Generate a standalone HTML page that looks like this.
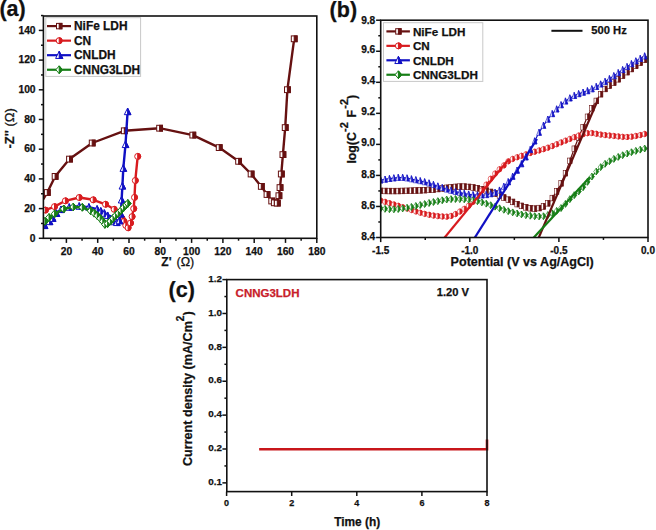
<!DOCTYPE html>
<html><head><meta charset="utf-8"><style>
html,body{margin:0;padding:0;background:#fff;overflow:hidden;width:656px;height:530px;}
svg{display:block;font-family:"Liberation Sans", sans-serif;}
text{stroke-width:0.25px;}
</style></head><body>
<svg width="656" height="530" viewBox="0 0 656 530">
<rect width="656" height="530" fill="#fff"/>
<clipPath id="ca"><rect x="43.4" y="16.0" width="273.40000000000003" height="222.3"/></clipPath>
<g clip-path="url(#ca)">
<polyline points="43.2,199.5 47.3,192.5 55.1,176.4 69.5,159.1 92.2,143 124.3,130.8 159.6,128.2 192.8,135.1 219.2,147.6 238.6,161.3 251.1,174 261.3,186.4 267,194.5 271.7,201 274.3,202.8 277.3,203.1 278.9,195.7 280,187.6 281.3,174 282.9,154.6 285.2,127.6 287.4,89.7 294.2,38.8" fill="none" stroke="#661111" stroke-width="2.4" stroke-linejoin="round"/>
<rect x="44.4" y="189.6" width="5.8" height="5.8" fill="#fff" stroke="#661111" stroke-width="1.0"/>
<rect x="47.3" y="189.6" width="2.9" height="5.8" fill="#661111" stroke="#661111" stroke-width="1.0"/>
<rect x="52.2" y="173.5" width="5.8" height="5.8" fill="#fff" stroke="#661111" stroke-width="1.0"/>
<rect x="55.1" y="173.5" width="2.9" height="5.8" fill="#661111" stroke="#661111" stroke-width="1.0"/>
<rect x="66.6" y="156.2" width="5.8" height="5.8" fill="#fff" stroke="#661111" stroke-width="1.0"/>
<rect x="69.5" y="156.2" width="2.9" height="5.8" fill="#661111" stroke="#661111" stroke-width="1.0"/>
<rect x="89.3" y="140.1" width="5.8" height="5.8" fill="#fff" stroke="#661111" stroke-width="1.0"/>
<rect x="92.2" y="140.1" width="2.9" height="5.8" fill="#661111" stroke="#661111" stroke-width="1.0"/>
<rect x="121.4" y="127.9" width="5.8" height="5.8" fill="#fff" stroke="#661111" stroke-width="1.0"/>
<rect x="124.3" y="127.9" width="2.9" height="5.8" fill="#661111" stroke="#661111" stroke-width="1.0"/>
<rect x="156.7" y="125.3" width="5.8" height="5.8" fill="#fff" stroke="#661111" stroke-width="1.0"/>
<rect x="159.6" y="125.3" width="2.9" height="5.8" fill="#661111" stroke="#661111" stroke-width="1.0"/>
<rect x="189.9" y="132.2" width="5.8" height="5.8" fill="#fff" stroke="#661111" stroke-width="1.0"/>
<rect x="192.8" y="132.2" width="2.9" height="5.8" fill="#661111" stroke="#661111" stroke-width="1.0"/>
<rect x="216.3" y="144.7" width="5.8" height="5.8" fill="#fff" stroke="#661111" stroke-width="1.0"/>
<rect x="219.2" y="144.7" width="2.9" height="5.8" fill="#661111" stroke="#661111" stroke-width="1.0"/>
<rect x="235.7" y="158.4" width="5.8" height="5.8" fill="#fff" stroke="#661111" stroke-width="1.0"/>
<rect x="238.6" y="158.4" width="2.9" height="5.8" fill="#661111" stroke="#661111" stroke-width="1.0"/>
<rect x="248.2" y="171.1" width="5.8" height="5.8" fill="#fff" stroke="#661111" stroke-width="1.0"/>
<rect x="251.1" y="171.1" width="2.9" height="5.8" fill="#661111" stroke="#661111" stroke-width="1.0"/>
<rect x="258.4" y="183.5" width="5.8" height="5.8" fill="#fff" stroke="#661111" stroke-width="1.0"/>
<rect x="261.3" y="183.5" width="2.9" height="5.8" fill="#661111" stroke="#661111" stroke-width="1.0"/>
<rect x="264.1" y="191.6" width="5.8" height="5.8" fill="#fff" stroke="#661111" stroke-width="1.0"/>
<rect x="267" y="191.6" width="2.9" height="5.8" fill="#661111" stroke="#661111" stroke-width="1.0"/>
<rect x="268.8" y="198.1" width="5.8" height="5.8" fill="#fff" stroke="#661111" stroke-width="1.0"/>
<rect x="271.7" y="198.1" width="2.9" height="5.8" fill="#661111" stroke="#661111" stroke-width="1.0"/>
<rect x="271.4" y="199.9" width="5.8" height="5.8" fill="#fff" stroke="#661111" stroke-width="1.0"/>
<rect x="274.3" y="199.9" width="2.9" height="5.8" fill="#661111" stroke="#661111" stroke-width="1.0"/>
<rect x="274.4" y="200.2" width="5.8" height="5.8" fill="#fff" stroke="#661111" stroke-width="1.0"/>
<rect x="277.3" y="200.2" width="2.9" height="5.8" fill="#661111" stroke="#661111" stroke-width="1.0"/>
<rect x="276" y="192.8" width="5.8" height="5.8" fill="#fff" stroke="#661111" stroke-width="1.0"/>
<rect x="278.9" y="192.8" width="2.9" height="5.8" fill="#661111" stroke="#661111" stroke-width="1.0"/>
<rect x="277.1" y="184.7" width="5.8" height="5.8" fill="#fff" stroke="#661111" stroke-width="1.0"/>
<rect x="280" y="184.7" width="2.9" height="5.8" fill="#661111" stroke="#661111" stroke-width="1.0"/>
<rect x="278.4" y="171.1" width="5.8" height="5.8" fill="#fff" stroke="#661111" stroke-width="1.0"/>
<rect x="281.3" y="171.1" width="2.9" height="5.8" fill="#661111" stroke="#661111" stroke-width="1.0"/>
<rect x="280" y="151.7" width="5.8" height="5.8" fill="#fff" stroke="#661111" stroke-width="1.0"/>
<rect x="282.9" y="151.7" width="2.9" height="5.8" fill="#661111" stroke="#661111" stroke-width="1.0"/>
<rect x="282.3" y="124.7" width="5.8" height="5.8" fill="#fff" stroke="#661111" stroke-width="1.0"/>
<rect x="285.2" y="124.7" width="2.9" height="5.8" fill="#661111" stroke="#661111" stroke-width="1.0"/>
<rect x="284.5" y="86.8" width="5.8" height="5.8" fill="#fff" stroke="#661111" stroke-width="1.0"/>
<rect x="287.4" y="86.8" width="2.9" height="5.8" fill="#661111" stroke="#661111" stroke-width="1.0"/>
<rect x="291.3" y="35.9" width="5.8" height="5.8" fill="#fff" stroke="#661111" stroke-width="1.0"/>
<rect x="294.2" y="35.9" width="2.9" height="5.8" fill="#661111" stroke="#661111" stroke-width="1.0"/>
<polyline points="45.4,210.1 54.5,206.6 65.4,200.8 79.2,197.5 93.2,199.8 105.5,204.3 114.2,209.3 119,214 122,218.5 124,221.4 125.8,225.4 128.1,227.8 130.5,223 132.1,216.6 133.7,208.6 134.5,197.4 135.3,180.5 137.7,156.4" fill="none" stroke="#d81b1f" stroke-width="2.4" stroke-linejoin="round"/>
<ellipse cx="45.4" cy="210.1" rx="3" ry="3" fill="#fff" stroke="#d81b1f" stroke-width="1.0"/>
<path d="M45.4,207.1 A3,3 0 0 1 45.4,213.1 Z" fill="#d81b1f" stroke="#d81b1f" stroke-width="1.0"/>
<ellipse cx="54.5" cy="206.6" rx="3" ry="3" fill="#fff" stroke="#d81b1f" stroke-width="1.0"/>
<path d="M54.5,203.6 A3,3 0 0 1 54.5,209.6 Z" fill="#d81b1f" stroke="#d81b1f" stroke-width="1.0"/>
<ellipse cx="65.4" cy="200.8" rx="3" ry="3" fill="#fff" stroke="#d81b1f" stroke-width="1.0"/>
<path d="M65.4,197.8 A3,3 0 0 1 65.4,203.8 Z" fill="#d81b1f" stroke="#d81b1f" stroke-width="1.0"/>
<ellipse cx="79.2" cy="197.5" rx="3" ry="3" fill="#fff" stroke="#d81b1f" stroke-width="1.0"/>
<path d="M79.2,194.5 A3,3 0 0 1 79.2,200.5 Z" fill="#d81b1f" stroke="#d81b1f" stroke-width="1.0"/>
<ellipse cx="93.2" cy="199.8" rx="3" ry="3" fill="#fff" stroke="#d81b1f" stroke-width="1.0"/>
<path d="M93.2,196.8 A3,3 0 0 1 93.2,202.8 Z" fill="#d81b1f" stroke="#d81b1f" stroke-width="1.0"/>
<ellipse cx="105.5" cy="204.3" rx="3" ry="3" fill="#fff" stroke="#d81b1f" stroke-width="1.0"/>
<path d="M105.5,201.3 A3,3 0 0 1 105.5,207.3 Z" fill="#d81b1f" stroke="#d81b1f" stroke-width="1.0"/>
<ellipse cx="114.2" cy="209.3" rx="3" ry="3" fill="#fff" stroke="#d81b1f" stroke-width="1.0"/>
<path d="M114.2,206.3 A3,3 0 0 1 114.2,212.3 Z" fill="#d81b1f" stroke="#d81b1f" stroke-width="1.0"/>
<ellipse cx="119" cy="214" rx="3" ry="3" fill="#fff" stroke="#d81b1f" stroke-width="1.0"/>
<path d="M119,211 A3,3 0 0 1 119,217 Z" fill="#d81b1f" stroke="#d81b1f" stroke-width="1.0"/>
<ellipse cx="122" cy="218.5" rx="3" ry="3" fill="#fff" stroke="#d81b1f" stroke-width="1.0"/>
<path d="M122,215.5 A3,3 0 0 1 122,221.5 Z" fill="#d81b1f" stroke="#d81b1f" stroke-width="1.0"/>
<ellipse cx="124" cy="221.4" rx="3" ry="3" fill="#fff" stroke="#d81b1f" stroke-width="1.0"/>
<path d="M124,218.4 A3,3 0 0 1 124,224.4 Z" fill="#d81b1f" stroke="#d81b1f" stroke-width="1.0"/>
<ellipse cx="125.8" cy="225.4" rx="3" ry="3" fill="#fff" stroke="#d81b1f" stroke-width="1.0"/>
<path d="M125.8,222.4 A3,3 0 0 1 125.8,228.4 Z" fill="#d81b1f" stroke="#d81b1f" stroke-width="1.0"/>
<ellipse cx="128.1" cy="227.8" rx="3" ry="3" fill="#fff" stroke="#d81b1f" stroke-width="1.0"/>
<path d="M128.1,224.8 A3,3 0 0 1 128.1,230.8 Z" fill="#d81b1f" stroke="#d81b1f" stroke-width="1.0"/>
<ellipse cx="130.5" cy="223" rx="3" ry="3" fill="#fff" stroke="#d81b1f" stroke-width="1.0"/>
<path d="M130.5,220 A3,3 0 0 1 130.5,226 Z" fill="#d81b1f" stroke="#d81b1f" stroke-width="1.0"/>
<ellipse cx="132.1" cy="216.6" rx="3" ry="3" fill="#fff" stroke="#d81b1f" stroke-width="1.0"/>
<path d="M132.1,213.6 A3,3 0 0 1 132.1,219.6 Z" fill="#d81b1f" stroke="#d81b1f" stroke-width="1.0"/>
<ellipse cx="133.7" cy="208.6" rx="3" ry="3" fill="#fff" stroke="#d81b1f" stroke-width="1.0"/>
<path d="M133.7,205.6 A3,3 0 0 1 133.7,211.6 Z" fill="#d81b1f" stroke="#d81b1f" stroke-width="1.0"/>
<ellipse cx="134.5" cy="197.4" rx="3" ry="3" fill="#fff" stroke="#d81b1f" stroke-width="1.0"/>
<path d="M134.5,194.4 A3,3 0 0 1 134.5,200.4 Z" fill="#d81b1f" stroke="#d81b1f" stroke-width="1.0"/>
<ellipse cx="135.3" cy="180.5" rx="3" ry="3" fill="#fff" stroke="#d81b1f" stroke-width="1.0"/>
<path d="M135.3,177.5 A3,3 0 0 1 135.3,183.5 Z" fill="#d81b1f" stroke="#d81b1f" stroke-width="1.0"/>
<ellipse cx="137.7" cy="156.4" rx="3" ry="3" fill="#fff" stroke="#d81b1f" stroke-width="1.0"/>
<path d="M137.7,153.4 A3,3 0 0 1 137.7,159.4 Z" fill="#d81b1f" stroke="#d81b1f" stroke-width="1.0"/>
<polyline points="44.6,225.6 49.5,221.7 52.7,218.4 56.5,213.5 61,209.6 69.2,207.3 79.2,206.3 88.9,207.2 97.1,209.2 100.8,211.2 104.3,213.3 107.6,215.6 110.6,218.6 113.6,221.8 116.8,222.6 119.4,220.8 120.8,214 121.6,200 122.4,186.1 123.3,168.4 125.5,144.6 127.6,111.7" fill="none" stroke="#1010c4" stroke-width="2.4" stroke-linejoin="round"/>
<path d="M44.6,221.97 L47.9,228.57 L41.3,228.57 Z" fill="#fff" stroke="#1010c4" stroke-width="1.0" stroke-linejoin="miter"/>
<path d="M44.6,221.97 L47.9,228.57 L44.6,228.57 Z" fill="#1010c4" stroke="#1010c4" stroke-width="1.0"/>
<path d="M49.5,218.07 L52.8,224.67 L46.2,224.67 Z" fill="#fff" stroke="#1010c4" stroke-width="1.0" stroke-linejoin="miter"/>
<path d="M49.5,218.07 L52.8,224.67 L49.5,224.67 Z" fill="#1010c4" stroke="#1010c4" stroke-width="1.0"/>
<path d="M52.7,214.77 L56,221.37 L49.4,221.37 Z" fill="#fff" stroke="#1010c4" stroke-width="1.0" stroke-linejoin="miter"/>
<path d="M52.7,214.77 L56,221.37 L52.7,221.37 Z" fill="#1010c4" stroke="#1010c4" stroke-width="1.0"/>
<path d="M56.5,209.87 L59.8,216.47 L53.2,216.47 Z" fill="#fff" stroke="#1010c4" stroke-width="1.0" stroke-linejoin="miter"/>
<path d="M56.5,209.87 L59.8,216.47 L56.5,216.47 Z" fill="#1010c4" stroke="#1010c4" stroke-width="1.0"/>
<path d="M61,205.97 L64.3,212.57 L57.7,212.57 Z" fill="#fff" stroke="#1010c4" stroke-width="1.0" stroke-linejoin="miter"/>
<path d="M61,205.97 L64.3,212.57 L61,212.57 Z" fill="#1010c4" stroke="#1010c4" stroke-width="1.0"/>
<path d="M69.2,203.67 L72.5,210.27 L65.9,210.27 Z" fill="#fff" stroke="#1010c4" stroke-width="1.0" stroke-linejoin="miter"/>
<path d="M69.2,203.67 L72.5,210.27 L69.2,210.27 Z" fill="#1010c4" stroke="#1010c4" stroke-width="1.0"/>
<path d="M79.2,202.67 L82.5,209.27 L75.9,209.27 Z" fill="#fff" stroke="#1010c4" stroke-width="1.0" stroke-linejoin="miter"/>
<path d="M79.2,202.67 L82.5,209.27 L79.2,209.27 Z" fill="#1010c4" stroke="#1010c4" stroke-width="1.0"/>
<path d="M88.9,203.57 L92.2,210.17 L85.6,210.17 Z" fill="#fff" stroke="#1010c4" stroke-width="1.0" stroke-linejoin="miter"/>
<path d="M88.9,203.57 L92.2,210.17 L88.9,210.17 Z" fill="#1010c4" stroke="#1010c4" stroke-width="1.0"/>
<path d="M97.1,205.57 L100.4,212.17 L93.8,212.17 Z" fill="#fff" stroke="#1010c4" stroke-width="1.0" stroke-linejoin="miter"/>
<path d="M97.1,205.57 L100.4,212.17 L97.1,212.17 Z" fill="#1010c4" stroke="#1010c4" stroke-width="1.0"/>
<path d="M100.8,207.57 L104.1,214.17 L97.5,214.17 Z" fill="#fff" stroke="#1010c4" stroke-width="1.0" stroke-linejoin="miter"/>
<path d="M100.8,207.57 L104.1,214.17 L100.8,214.17 Z" fill="#1010c4" stroke="#1010c4" stroke-width="1.0"/>
<path d="M104.3,209.67 L107.6,216.27 L101,216.27 Z" fill="#fff" stroke="#1010c4" stroke-width="1.0" stroke-linejoin="miter"/>
<path d="M104.3,209.67 L107.6,216.27 L104.3,216.27 Z" fill="#1010c4" stroke="#1010c4" stroke-width="1.0"/>
<path d="M107.6,211.97 L110.9,218.57 L104.3,218.57 Z" fill="#fff" stroke="#1010c4" stroke-width="1.0" stroke-linejoin="miter"/>
<path d="M107.6,211.97 L110.9,218.57 L107.6,218.57 Z" fill="#1010c4" stroke="#1010c4" stroke-width="1.0"/>
<path d="M110.6,214.97 L113.9,221.57 L107.3,221.57 Z" fill="#fff" stroke="#1010c4" stroke-width="1.0" stroke-linejoin="miter"/>
<path d="M110.6,214.97 L113.9,221.57 L110.6,221.57 Z" fill="#1010c4" stroke="#1010c4" stroke-width="1.0"/>
<path d="M113.6,218.17 L116.9,224.77 L110.3,224.77 Z" fill="#fff" stroke="#1010c4" stroke-width="1.0" stroke-linejoin="miter"/>
<path d="M113.6,218.17 L116.9,224.77 L113.6,224.77 Z" fill="#1010c4" stroke="#1010c4" stroke-width="1.0"/>
<path d="M116.8,218.97 L120.1,225.57 L113.5,225.57 Z" fill="#fff" stroke="#1010c4" stroke-width="1.0" stroke-linejoin="miter"/>
<path d="M116.8,218.97 L120.1,225.57 L116.8,225.57 Z" fill="#1010c4" stroke="#1010c4" stroke-width="1.0"/>
<path d="M119.4,217.17 L122.7,223.77 L116.1,223.77 Z" fill="#fff" stroke="#1010c4" stroke-width="1.0" stroke-linejoin="miter"/>
<path d="M119.4,217.17 L122.7,223.77 L119.4,223.77 Z" fill="#1010c4" stroke="#1010c4" stroke-width="1.0"/>
<path d="M120.8,210.37 L124.1,216.97 L117.5,216.97 Z" fill="#fff" stroke="#1010c4" stroke-width="1.0" stroke-linejoin="miter"/>
<path d="M120.8,210.37 L124.1,216.97 L120.8,216.97 Z" fill="#1010c4" stroke="#1010c4" stroke-width="1.0"/>
<path d="M121.6,196.37 L124.9,202.97 L118.3,202.97 Z" fill="#fff" stroke="#1010c4" stroke-width="1.0" stroke-linejoin="miter"/>
<path d="M121.6,196.37 L124.9,202.97 L121.6,202.97 Z" fill="#1010c4" stroke="#1010c4" stroke-width="1.0"/>
<path d="M122.4,182.47 L125.7,189.07 L119.1,189.07 Z" fill="#fff" stroke="#1010c4" stroke-width="1.0" stroke-linejoin="miter"/>
<path d="M122.4,182.47 L125.7,189.07 L122.4,189.07 Z" fill="#1010c4" stroke="#1010c4" stroke-width="1.0"/>
<path d="M123.3,164.77 L126.6,171.37 L120,171.37 Z" fill="#fff" stroke="#1010c4" stroke-width="1.0" stroke-linejoin="miter"/>
<path d="M123.3,164.77 L126.6,171.37 L123.3,171.37 Z" fill="#1010c4" stroke="#1010c4" stroke-width="1.0"/>
<path d="M125.5,140.97 L128.8,147.57 L122.2,147.57 Z" fill="#fff" stroke="#1010c4" stroke-width="1.0" stroke-linejoin="miter"/>
<path d="M125.5,140.97 L128.8,147.57 L125.5,147.57 Z" fill="#1010c4" stroke="#1010c4" stroke-width="1.0"/>
<path d="M127.6,108.07 L130.9,114.67 L124.3,114.67 Z" fill="#fff" stroke="#1010c4" stroke-width="1.0" stroke-linejoin="miter"/>
<path d="M127.6,108.07 L130.9,114.67 L127.6,114.67 Z" fill="#1010c4" stroke="#1010c4" stroke-width="1.0"/>
<polyline points="45,221.3 49,217.5 54.6,213.8 63.7,208.9 73.2,207 82.3,207.3 90.6,210.8 94.2,213.2 97.3,215.6 100.2,218.4 102.8,221.3 104.9,224.4 107.6,223.6 110.4,221.2 113,218.4 115.6,215.6 118.3,213.2 121,210.4 123.6,207.6 126.2,204.9 127.8,203.4" fill="none" stroke="#167e16" stroke-width="2.4" stroke-linejoin="round"/>
<path d="M45,217.41 L48.3,221.3 L45,225.19 L41.7,221.3 Z" fill="#fff" stroke="#167e16" stroke-width="1.0"/>
<path d="M45,217.41 L48.3,221.3 L45,225.19 Z" fill="#167e16" stroke="#167e16" stroke-width="1.0"/>
<path d="M49,213.61 L52.3,217.5 L49,221.39 L45.7,217.5 Z" fill="#fff" stroke="#167e16" stroke-width="1.0"/>
<path d="M49,213.61 L52.3,217.5 L49,221.39 Z" fill="#167e16" stroke="#167e16" stroke-width="1.0"/>
<path d="M54.6,209.91 L57.9,213.8 L54.6,217.69 L51.3,213.8 Z" fill="#fff" stroke="#167e16" stroke-width="1.0"/>
<path d="M54.6,209.91 L57.9,213.8 L54.6,217.69 Z" fill="#167e16" stroke="#167e16" stroke-width="1.0"/>
<path d="M63.7,205.01 L67,208.9 L63.7,212.79 L60.4,208.9 Z" fill="#fff" stroke="#167e16" stroke-width="1.0"/>
<path d="M63.7,205.01 L67,208.9 L63.7,212.79 Z" fill="#167e16" stroke="#167e16" stroke-width="1.0"/>
<path d="M73.2,203.11 L76.5,207 L73.2,210.89 L69.9,207 Z" fill="#fff" stroke="#167e16" stroke-width="1.0"/>
<path d="M73.2,203.11 L76.5,207 L73.2,210.89 Z" fill="#167e16" stroke="#167e16" stroke-width="1.0"/>
<path d="M82.3,203.41 L85.6,207.3 L82.3,211.19 L79,207.3 Z" fill="#fff" stroke="#167e16" stroke-width="1.0"/>
<path d="M82.3,203.41 L85.6,207.3 L82.3,211.19 Z" fill="#167e16" stroke="#167e16" stroke-width="1.0"/>
<path d="M90.6,206.91 L93.9,210.8 L90.6,214.69 L87.3,210.8 Z" fill="#fff" stroke="#167e16" stroke-width="1.0"/>
<path d="M90.6,206.91 L93.9,210.8 L90.6,214.69 Z" fill="#167e16" stroke="#167e16" stroke-width="1.0"/>
<path d="M94.2,209.31 L97.5,213.2 L94.2,217.09 L90.9,213.2 Z" fill="#fff" stroke="#167e16" stroke-width="1.0"/>
<path d="M94.2,209.31 L97.5,213.2 L94.2,217.09 Z" fill="#167e16" stroke="#167e16" stroke-width="1.0"/>
<path d="M97.3,211.71 L100.6,215.6 L97.3,219.49 L94,215.6 Z" fill="#fff" stroke="#167e16" stroke-width="1.0"/>
<path d="M97.3,211.71 L100.6,215.6 L97.3,219.49 Z" fill="#167e16" stroke="#167e16" stroke-width="1.0"/>
<path d="M100.2,214.51 L103.5,218.4 L100.2,222.29 L96.9,218.4 Z" fill="#fff" stroke="#167e16" stroke-width="1.0"/>
<path d="M100.2,214.51 L103.5,218.4 L100.2,222.29 Z" fill="#167e16" stroke="#167e16" stroke-width="1.0"/>
<path d="M102.8,217.41 L106.1,221.3 L102.8,225.19 L99.5,221.3 Z" fill="#fff" stroke="#167e16" stroke-width="1.0"/>
<path d="M102.8,217.41 L106.1,221.3 L102.8,225.19 Z" fill="#167e16" stroke="#167e16" stroke-width="1.0"/>
<path d="M104.9,220.51 L108.2,224.4 L104.9,228.29 L101.6,224.4 Z" fill="#fff" stroke="#167e16" stroke-width="1.0"/>
<path d="M104.9,220.51 L108.2,224.4 L104.9,228.29 Z" fill="#167e16" stroke="#167e16" stroke-width="1.0"/>
<path d="M107.6,219.71 L110.9,223.6 L107.6,227.49 L104.3,223.6 Z" fill="#fff" stroke="#167e16" stroke-width="1.0"/>
<path d="M107.6,219.71 L110.9,223.6 L107.6,227.49 Z" fill="#167e16" stroke="#167e16" stroke-width="1.0"/>
<path d="M110.4,217.31 L113.7,221.2 L110.4,225.09 L107.1,221.2 Z" fill="#fff" stroke="#167e16" stroke-width="1.0"/>
<path d="M110.4,217.31 L113.7,221.2 L110.4,225.09 Z" fill="#167e16" stroke="#167e16" stroke-width="1.0"/>
<path d="M113,214.51 L116.3,218.4 L113,222.29 L109.7,218.4 Z" fill="#fff" stroke="#167e16" stroke-width="1.0"/>
<path d="M113,214.51 L116.3,218.4 L113,222.29 Z" fill="#167e16" stroke="#167e16" stroke-width="1.0"/>
<path d="M115.6,211.71 L118.9,215.6 L115.6,219.49 L112.3,215.6 Z" fill="#fff" stroke="#167e16" stroke-width="1.0"/>
<path d="M115.6,211.71 L118.9,215.6 L115.6,219.49 Z" fill="#167e16" stroke="#167e16" stroke-width="1.0"/>
<path d="M118.3,209.31 L121.6,213.2 L118.3,217.09 L115,213.2 Z" fill="#fff" stroke="#167e16" stroke-width="1.0"/>
<path d="M118.3,209.31 L121.6,213.2 L118.3,217.09 Z" fill="#167e16" stroke="#167e16" stroke-width="1.0"/>
<path d="M121,206.51 L124.3,210.4 L121,214.29 L117.7,210.4 Z" fill="#fff" stroke="#167e16" stroke-width="1.0"/>
<path d="M121,206.51 L124.3,210.4 L121,214.29 Z" fill="#167e16" stroke="#167e16" stroke-width="1.0"/>
<path d="M123.6,203.71 L126.9,207.6 L123.6,211.49 L120.3,207.6 Z" fill="#fff" stroke="#167e16" stroke-width="1.0"/>
<path d="M123.6,203.71 L126.9,207.6 L123.6,211.49 Z" fill="#167e16" stroke="#167e16" stroke-width="1.0"/>
<path d="M126.2,201.01 L129.5,204.9 L126.2,208.79 L122.9,204.9 Z" fill="#fff" stroke="#167e16" stroke-width="1.0"/>
<path d="M126.2,201.01 L129.5,204.9 L126.2,208.79 Z" fill="#167e16" stroke="#167e16" stroke-width="1.0"/>
<path d="M127.8,199.51 L131.1,203.4 L127.8,207.29 L124.5,203.4 Z" fill="#fff" stroke="#167e16" stroke-width="1.0"/>
<path d="M127.8,199.51 L131.1,203.4 L127.8,207.29 Z" fill="#167e16" stroke="#167e16" stroke-width="1.0"/>
</g>
<rect x="43.4" y="16.0" width="273.4" height="222.3" fill="none" stroke="#111" stroke-width="1.6"/>
<line x1="38.8" y1="238.3" x2="43.4" y2="238.3" stroke="#111" stroke-width="1.5"/>
<text x="35.6" y="241.5" font-size="10.3" font-weight="bold" text-anchor="end" fill="#111" stroke="#111" >0</text>
<line x1="41" y1="223.45" x2="43.4" y2="223.45" stroke="#111" stroke-width="1.5"/>
<line x1="38.8" y1="208.6" x2="43.4" y2="208.6" stroke="#111" stroke-width="1.5"/>
<text x="35.6" y="211.8" font-size="10.3" font-weight="bold" text-anchor="end" fill="#111" stroke="#111" >20</text>
<line x1="41" y1="193.75" x2="43.4" y2="193.75" stroke="#111" stroke-width="1.5"/>
<line x1="38.8" y1="178.9" x2="43.4" y2="178.9" stroke="#111" stroke-width="1.5"/>
<text x="35.6" y="182.1" font-size="10.3" font-weight="bold" text-anchor="end" fill="#111" stroke="#111" >40</text>
<line x1="41" y1="164.05" x2="43.4" y2="164.05" stroke="#111" stroke-width="1.5"/>
<line x1="38.8" y1="149.2" x2="43.4" y2="149.2" stroke="#111" stroke-width="1.5"/>
<text x="35.6" y="152.4" font-size="10.3" font-weight="bold" text-anchor="end" fill="#111" stroke="#111" >60</text>
<line x1="41" y1="134.35" x2="43.4" y2="134.35" stroke="#111" stroke-width="1.5"/>
<line x1="38.8" y1="119.5" x2="43.4" y2="119.5" stroke="#111" stroke-width="1.5"/>
<text x="35.6" y="122.7" font-size="10.3" font-weight="bold" text-anchor="end" fill="#111" stroke="#111" >80</text>
<line x1="41" y1="104.65" x2="43.4" y2="104.65" stroke="#111" stroke-width="1.5"/>
<line x1="38.8" y1="89.8" x2="43.4" y2="89.8" stroke="#111" stroke-width="1.5"/>
<text x="35.6" y="93" font-size="10.3" font-weight="bold" text-anchor="end" fill="#111" stroke="#111" >100</text>
<line x1="41" y1="74.95" x2="43.4" y2="74.95" stroke="#111" stroke-width="1.5"/>
<line x1="38.8" y1="60.1" x2="43.4" y2="60.1" stroke="#111" stroke-width="1.5"/>
<text x="35.6" y="63.3" font-size="10.3" font-weight="bold" text-anchor="end" fill="#111" stroke="#111" >120</text>
<line x1="41" y1="45.25" x2="43.4" y2="45.25" stroke="#111" stroke-width="1.5"/>
<line x1="38.8" y1="30.4" x2="43.4" y2="30.4" stroke="#111" stroke-width="1.5"/>
<text x="35.6" y="33.6" font-size="10.3" font-weight="bold" text-anchor="end" fill="#111" stroke="#111" >140</text>
<line x1="41" y1="15.55" x2="43.4" y2="15.55" stroke="#111" stroke-width="1.5"/>
<line x1="50.75" y1="238.3" x2="50.75" y2="240.7" stroke="#111" stroke-width="1.5"/>
<line x1="66.4" y1="238.3" x2="66.4" y2="242.9" stroke="#111" stroke-width="1.5"/>
<text x="66.4" y="255" font-size="10.3" font-weight="bold" text-anchor="middle" fill="#111" stroke="#111" >20</text>
<line x1="82.05" y1="238.3" x2="82.05" y2="240.7" stroke="#111" stroke-width="1.5"/>
<line x1="97.7" y1="238.3" x2="97.7" y2="242.9" stroke="#111" stroke-width="1.5"/>
<text x="97.7" y="255" font-size="10.3" font-weight="bold" text-anchor="middle" fill="#111" stroke="#111" >40</text>
<line x1="113.35" y1="238.3" x2="113.35" y2="240.7" stroke="#111" stroke-width="1.5"/>
<line x1="129" y1="238.3" x2="129" y2="242.9" stroke="#111" stroke-width="1.5"/>
<text x="129" y="255" font-size="10.3" font-weight="bold" text-anchor="middle" fill="#111" stroke="#111" >60</text>
<line x1="144.65" y1="238.3" x2="144.65" y2="240.7" stroke="#111" stroke-width="1.5"/>
<line x1="160.3" y1="238.3" x2="160.3" y2="242.9" stroke="#111" stroke-width="1.5"/>
<text x="160.3" y="255" font-size="10.3" font-weight="bold" text-anchor="middle" fill="#111" stroke="#111" >80</text>
<line x1="175.95" y1="238.3" x2="175.95" y2="240.7" stroke="#111" stroke-width="1.5"/>
<line x1="191.6" y1="238.3" x2="191.6" y2="242.9" stroke="#111" stroke-width="1.5"/>
<text x="191.6" y="255" font-size="10.3" font-weight="bold" text-anchor="middle" fill="#111" stroke="#111" >100</text>
<line x1="207.25" y1="238.3" x2="207.25" y2="240.7" stroke="#111" stroke-width="1.5"/>
<line x1="222.9" y1="238.3" x2="222.9" y2="242.9" stroke="#111" stroke-width="1.5"/>
<text x="222.9" y="255" font-size="10.3" font-weight="bold" text-anchor="middle" fill="#111" stroke="#111" >120</text>
<line x1="238.55" y1="238.3" x2="238.55" y2="240.7" stroke="#111" stroke-width="1.5"/>
<line x1="254.2" y1="238.3" x2="254.2" y2="242.9" stroke="#111" stroke-width="1.5"/>
<text x="254.2" y="255" font-size="10.3" font-weight="bold" text-anchor="middle" fill="#111" stroke="#111" >140</text>
<line x1="269.85" y1="238.3" x2="269.85" y2="240.7" stroke="#111" stroke-width="1.5"/>
<line x1="285.5" y1="238.3" x2="285.5" y2="242.9" stroke="#111" stroke-width="1.5"/>
<text x="285.5" y="255" font-size="10.3" font-weight="bold" text-anchor="middle" fill="#111" stroke="#111" >160</text>
<line x1="301.15" y1="238.3" x2="301.15" y2="240.7" stroke="#111" stroke-width="1.5"/>
<line x1="316.8" y1="238.3" x2="316.8" y2="242.9" stroke="#111" stroke-width="1.5"/>
<text x="316.8" y="255" font-size="10.3" font-weight="bold" text-anchor="middle" fill="#111" stroke="#111" >180</text>
<text x="161.3" y="265.6" font-size="12" fill="#111" stroke="#111"><tspan font-weight="bold">Z'</tspan><tspan font-weight="normal" font-size="12.6" dx="1.5"> (Ω)</tspan></text>
<text transform="translate(14.4,148.6) rotate(-90)" font-size="13" fill="#111" stroke="#111"><tspan font-weight="bold">-Z''</tspan><tspan font-weight="normal"> (Ω)</tspan></text>
<rect x="45.8" y="17.7" width="94.8" height="58.7" fill="#fff" stroke="#c8c8c8" stroke-width="1"/>
<line x1="47" y1="26.1" x2="71" y2="26.1" stroke="#661111" stroke-width="2.2"/>
<rect x="56.5" y="23.4" width="5.4" height="5.4" fill="#fff" stroke="#661111" stroke-width="1"/>
<rect x="59.2" y="23.4" width="2.7" height="5.4" fill="#661111" stroke="#661111" stroke-width="1"/>
<text x="74" y="30.3" font-size="11.9" font-weight="bold" text-anchor="start" fill="#111" stroke="#111" >NiFe LDH</text>
<line x1="47" y1="40.65" x2="71" y2="40.65" stroke="#d81b1f" stroke-width="2.2"/>
<ellipse cx="59.2" cy="40.65" rx="3" ry="3" fill="#fff" stroke="#d81b1f" stroke-width="1"/>
<path d="M59.2,37.65 A3,3 0 0 1 59.2,43.65 Z" fill="#d81b1f" stroke="#d81b1f" stroke-width="1"/>
<text x="74" y="44.85" font-size="11.9" font-weight="bold" text-anchor="start" fill="#111" stroke="#111" >CN</text>
<line x1="47" y1="55.2" x2="71" y2="55.2" stroke="#1010c4" stroke-width="2.2"/>
<path d="M59.2,51.24 L62.8,58.44 L55.6,58.44 Z" fill="#fff" stroke="#1010c4" stroke-width="1" stroke-linejoin="miter"/>
<path d="M59.2,51.24 L62.8,58.44 L59.2,58.44 Z" fill="#1010c4" stroke="#1010c4" stroke-width="1"/>
<text x="74" y="59.4" font-size="11.9" font-weight="bold" text-anchor="start" fill="#111" stroke="#111" >CNLDH</text>
<line x1="47" y1="69.75" x2="71" y2="69.75" stroke="#167e16" stroke-width="2.2"/>
<path d="M59.2,65.86 L62.5,69.75 L59.2,73.64 L55.9,69.75 Z" fill="#fff" stroke="#167e16" stroke-width="1"/>
<path d="M59.2,65.86 L62.5,69.75 L59.2,73.64 Z" fill="#167e16" stroke="#167e16" stroke-width="1"/>
<text x="74" y="73.95" font-size="11.9" font-weight="bold" text-anchor="start" fill="#111" stroke="#111" >CNNG3LDH</text>
<text x="-0.6" y="15.9" font-size="21.5" font-weight="bold" text-anchor="start" fill="#111" stroke="#111" >(a)</text>
<clipPath id="cb"><rect x="380.7" y="20.2" width="267.3" height="217.3"/></clipPath>
<g clip-path="url(#cb)">
<polyline points="380.6,190.91 385,190.98 389.4,191.04 393.8,191.06 398.2,191.03 402.6,190.94 407,190.82 411.4,190.68 415.8,190.52 420.2,190.34 424.6,190.13 429,189.87 433.4,189.51 437.8,189.01 442.2,188.41 446.6,187.79 451,187.3 455.4,186.89 459.8,186.6 464.2,186.63 468.6,186.94 473,187.52 477.4,188.34 481.8,189.37 486.2,190.57 490.6,191.95 495,193.56 499.4,195.47 503.8,197.56 508.2,199.67 512.6,201.94 517,204.11 521.4,205.91 525.8,207.37 530.2,208.27 534.6,208.66 539,208.06 543.4,206.43 547.8,203.3 552.2,198.06 556.6,191.33 561,183.31 565.4,173.19 569.8,160.85 574.2,148.74 578.6,137.46 583,127.2 587.4,116.81 591.8,108.17 596.2,100.92 600.6,94.18 605,88.97 609.4,85.5 613.8,82.56 618.2,79.24 622.6,75.52 627,72.14 631.4,69.02 635.8,65.89 640.2,62.71 644.6,59.6" fill="none" stroke="#661111" stroke-width="1.2"/>
<rect x="378.4" y="188.11" width="4.4" height="5.6" fill="#fff" stroke="#661111" stroke-width="0.6"/>
<rect x="380.6" y="188.11" width="2.2" height="5.6" fill="#661111" stroke="#661111" stroke-width="0.6"/>
<rect x="382.8" y="188.18" width="4.4" height="5.6" fill="#fff" stroke="#661111" stroke-width="0.6"/>
<rect x="385" y="188.18" width="2.2" height="5.6" fill="#661111" stroke="#661111" stroke-width="0.6"/>
<rect x="387.2" y="188.24" width="4.4" height="5.6" fill="#fff" stroke="#661111" stroke-width="0.6"/>
<rect x="389.4" y="188.24" width="2.2" height="5.6" fill="#661111" stroke="#661111" stroke-width="0.6"/>
<rect x="391.6" y="188.26" width="4.4" height="5.6" fill="#fff" stroke="#661111" stroke-width="0.6"/>
<rect x="393.8" y="188.26" width="2.2" height="5.6" fill="#661111" stroke="#661111" stroke-width="0.6"/>
<rect x="396" y="188.23" width="4.4" height="5.6" fill="#fff" stroke="#661111" stroke-width="0.6"/>
<rect x="398.2" y="188.23" width="2.2" height="5.6" fill="#661111" stroke="#661111" stroke-width="0.6"/>
<rect x="400.4" y="188.14" width="4.4" height="5.6" fill="#fff" stroke="#661111" stroke-width="0.6"/>
<rect x="402.6" y="188.14" width="2.2" height="5.6" fill="#661111" stroke="#661111" stroke-width="0.6"/>
<rect x="404.8" y="188.02" width="4.4" height="5.6" fill="#fff" stroke="#661111" stroke-width="0.6"/>
<rect x="407" y="188.02" width="2.2" height="5.6" fill="#661111" stroke="#661111" stroke-width="0.6"/>
<rect x="409.2" y="187.88" width="4.4" height="5.6" fill="#fff" stroke="#661111" stroke-width="0.6"/>
<rect x="411.4" y="187.88" width="2.2" height="5.6" fill="#661111" stroke="#661111" stroke-width="0.6"/>
<rect x="413.6" y="187.72" width="4.4" height="5.6" fill="#fff" stroke="#661111" stroke-width="0.6"/>
<rect x="415.8" y="187.72" width="2.2" height="5.6" fill="#661111" stroke="#661111" stroke-width="0.6"/>
<rect x="418" y="187.54" width="4.4" height="5.6" fill="#fff" stroke="#661111" stroke-width="0.6"/>
<rect x="420.2" y="187.54" width="2.2" height="5.6" fill="#661111" stroke="#661111" stroke-width="0.6"/>
<rect x="422.4" y="187.33" width="4.4" height="5.6" fill="#fff" stroke="#661111" stroke-width="0.6"/>
<rect x="424.6" y="187.33" width="2.2" height="5.6" fill="#661111" stroke="#661111" stroke-width="0.6"/>
<rect x="426.8" y="187.07" width="4.4" height="5.6" fill="#fff" stroke="#661111" stroke-width="0.6"/>
<rect x="429" y="187.07" width="2.2" height="5.6" fill="#661111" stroke="#661111" stroke-width="0.6"/>
<rect x="431.2" y="186.71" width="4.4" height="5.6" fill="#fff" stroke="#661111" stroke-width="0.6"/>
<rect x="433.4" y="186.71" width="2.2" height="5.6" fill="#661111" stroke="#661111" stroke-width="0.6"/>
<rect x="435.6" y="186.21" width="4.4" height="5.6" fill="#fff" stroke="#661111" stroke-width="0.6"/>
<rect x="437.8" y="186.21" width="2.2" height="5.6" fill="#661111" stroke="#661111" stroke-width="0.6"/>
<rect x="440" y="185.61" width="4.4" height="5.6" fill="#fff" stroke="#661111" stroke-width="0.6"/>
<rect x="442.2" y="185.61" width="2.2" height="5.6" fill="#661111" stroke="#661111" stroke-width="0.6"/>
<rect x="444.4" y="184.99" width="4.4" height="5.6" fill="#fff" stroke="#661111" stroke-width="0.6"/>
<rect x="446.6" y="184.99" width="2.2" height="5.6" fill="#661111" stroke="#661111" stroke-width="0.6"/>
<rect x="448.8" y="184.5" width="4.4" height="5.6" fill="#fff" stroke="#661111" stroke-width="0.6"/>
<rect x="451" y="184.5" width="2.2" height="5.6" fill="#661111" stroke="#661111" stroke-width="0.6"/>
<rect x="453.2" y="184.09" width="4.4" height="5.6" fill="#fff" stroke="#661111" stroke-width="0.6"/>
<rect x="455.4" y="184.09" width="2.2" height="5.6" fill="#661111" stroke="#661111" stroke-width="0.6"/>
<rect x="457.6" y="183.8" width="4.4" height="5.6" fill="#fff" stroke="#661111" stroke-width="0.6"/>
<rect x="459.8" y="183.8" width="2.2" height="5.6" fill="#661111" stroke="#661111" stroke-width="0.6"/>
<rect x="462" y="183.83" width="4.4" height="5.6" fill="#fff" stroke="#661111" stroke-width="0.6"/>
<rect x="464.2" y="183.83" width="2.2" height="5.6" fill="#661111" stroke="#661111" stroke-width="0.6"/>
<rect x="466.4" y="184.14" width="4.4" height="5.6" fill="#fff" stroke="#661111" stroke-width="0.6"/>
<rect x="468.6" y="184.14" width="2.2" height="5.6" fill="#661111" stroke="#661111" stroke-width="0.6"/>
<rect x="470.8" y="184.72" width="4.4" height="5.6" fill="#fff" stroke="#661111" stroke-width="0.6"/>
<rect x="473" y="184.72" width="2.2" height="5.6" fill="#661111" stroke="#661111" stroke-width="0.6"/>
<rect x="475.2" y="185.54" width="4.4" height="5.6" fill="#fff" stroke="#661111" stroke-width="0.6"/>
<rect x="477.4" y="185.54" width="2.2" height="5.6" fill="#661111" stroke="#661111" stroke-width="0.6"/>
<rect x="479.6" y="186.57" width="4.4" height="5.6" fill="#fff" stroke="#661111" stroke-width="0.6"/>
<rect x="481.8" y="186.57" width="2.2" height="5.6" fill="#661111" stroke="#661111" stroke-width="0.6"/>
<rect x="484" y="187.77" width="4.4" height="5.6" fill="#fff" stroke="#661111" stroke-width="0.6"/>
<rect x="486.2" y="187.77" width="2.2" height="5.6" fill="#661111" stroke="#661111" stroke-width="0.6"/>
<rect x="488.4" y="189.15" width="4.4" height="5.6" fill="#fff" stroke="#661111" stroke-width="0.6"/>
<rect x="490.6" y="189.15" width="2.2" height="5.6" fill="#661111" stroke="#661111" stroke-width="0.6"/>
<rect x="492.8" y="190.76" width="4.4" height="5.6" fill="#fff" stroke="#661111" stroke-width="0.6"/>
<rect x="495" y="190.76" width="2.2" height="5.6" fill="#661111" stroke="#661111" stroke-width="0.6"/>
<rect x="497.2" y="192.67" width="4.4" height="5.6" fill="#fff" stroke="#661111" stroke-width="0.6"/>
<rect x="499.4" y="192.67" width="2.2" height="5.6" fill="#661111" stroke="#661111" stroke-width="0.6"/>
<rect x="501.6" y="194.76" width="4.4" height="5.6" fill="#fff" stroke="#661111" stroke-width="0.6"/>
<rect x="503.8" y="194.76" width="2.2" height="5.6" fill="#661111" stroke="#661111" stroke-width="0.6"/>
<rect x="506" y="196.87" width="4.4" height="5.6" fill="#fff" stroke="#661111" stroke-width="0.6"/>
<rect x="508.2" y="196.87" width="2.2" height="5.6" fill="#661111" stroke="#661111" stroke-width="0.6"/>
<rect x="510.4" y="199.14" width="4.4" height="5.6" fill="#fff" stroke="#661111" stroke-width="0.6"/>
<rect x="512.6" y="199.14" width="2.2" height="5.6" fill="#661111" stroke="#661111" stroke-width="0.6"/>
<rect x="514.8" y="201.31" width="4.4" height="5.6" fill="#fff" stroke="#661111" stroke-width="0.6"/>
<rect x="517" y="201.31" width="2.2" height="5.6" fill="#661111" stroke="#661111" stroke-width="0.6"/>
<rect x="519.2" y="203.11" width="4.4" height="5.6" fill="#fff" stroke="#661111" stroke-width="0.6"/>
<rect x="521.4" y="203.11" width="2.2" height="5.6" fill="#661111" stroke="#661111" stroke-width="0.6"/>
<rect x="523.6" y="204.57" width="4.4" height="5.6" fill="#fff" stroke="#661111" stroke-width="0.6"/>
<rect x="525.8" y="204.57" width="2.2" height="5.6" fill="#661111" stroke="#661111" stroke-width="0.6"/>
<rect x="528" y="205.47" width="4.4" height="5.6" fill="#fff" stroke="#661111" stroke-width="0.6"/>
<rect x="530.2" y="205.47" width="2.2" height="5.6" fill="#661111" stroke="#661111" stroke-width="0.6"/>
<rect x="532.4" y="205.86" width="4.4" height="5.6" fill="#fff" stroke="#661111" stroke-width="0.6"/>
<rect x="534.6" y="205.86" width="2.2" height="5.6" fill="#661111" stroke="#661111" stroke-width="0.6"/>
<rect x="536.8" y="205.26" width="4.4" height="5.6" fill="#fff" stroke="#661111" stroke-width="0.6"/>
<rect x="539" y="205.26" width="2.2" height="5.6" fill="#661111" stroke="#661111" stroke-width="0.6"/>
<rect x="541.2" y="203.63" width="4.4" height="5.6" fill="#fff" stroke="#661111" stroke-width="0.6"/>
<rect x="543.4" y="203.63" width="2.2" height="5.6" fill="#661111" stroke="#661111" stroke-width="0.6"/>
<rect x="545.6" y="200.5" width="4.4" height="5.6" fill="#fff" stroke="#661111" stroke-width="0.6"/>
<rect x="547.8" y="200.5" width="2.2" height="5.6" fill="#661111" stroke="#661111" stroke-width="0.6"/>
<rect x="550" y="195.26" width="4.4" height="5.6" fill="#fff" stroke="#661111" stroke-width="0.6"/>
<rect x="552.2" y="195.26" width="2.2" height="5.6" fill="#661111" stroke="#661111" stroke-width="0.6"/>
<rect x="554.4" y="188.53" width="4.4" height="5.6" fill="#fff" stroke="#661111" stroke-width="0.6"/>
<rect x="556.6" y="188.53" width="2.2" height="5.6" fill="#661111" stroke="#661111" stroke-width="0.6"/>
<rect x="558.8" y="180.51" width="4.4" height="5.6" fill="#fff" stroke="#661111" stroke-width="0.6"/>
<rect x="561" y="180.51" width="2.2" height="5.6" fill="#661111" stroke="#661111" stroke-width="0.6"/>
<rect x="563.2" y="170.39" width="4.4" height="5.6" fill="#fff" stroke="#661111" stroke-width="0.6"/>
<rect x="565.4" y="170.39" width="2.2" height="5.6" fill="#661111" stroke="#661111" stroke-width="0.6"/>
<rect x="567.6" y="158.05" width="4.4" height="5.6" fill="#fff" stroke="#661111" stroke-width="0.6"/>
<rect x="569.8" y="158.05" width="2.2" height="5.6" fill="#661111" stroke="#661111" stroke-width="0.6"/>
<rect x="572" y="145.94" width="4.4" height="5.6" fill="#fff" stroke="#661111" stroke-width="0.6"/>
<rect x="574.2" y="145.94" width="2.2" height="5.6" fill="#661111" stroke="#661111" stroke-width="0.6"/>
<rect x="576.4" y="134.66" width="4.4" height="5.6" fill="#fff" stroke="#661111" stroke-width="0.6"/>
<rect x="578.6" y="134.66" width="2.2" height="5.6" fill="#661111" stroke="#661111" stroke-width="0.6"/>
<rect x="580.8" y="124.4" width="4.4" height="5.6" fill="#fff" stroke="#661111" stroke-width="0.6"/>
<rect x="583" y="124.4" width="2.2" height="5.6" fill="#661111" stroke="#661111" stroke-width="0.6"/>
<rect x="585.2" y="114.01" width="4.4" height="5.6" fill="#fff" stroke="#661111" stroke-width="0.6"/>
<rect x="587.4" y="114.01" width="2.2" height="5.6" fill="#661111" stroke="#661111" stroke-width="0.6"/>
<rect x="589.6" y="105.37" width="4.4" height="5.6" fill="#fff" stroke="#661111" stroke-width="0.6"/>
<rect x="591.8" y="105.37" width="2.2" height="5.6" fill="#661111" stroke="#661111" stroke-width="0.6"/>
<rect x="594" y="98.12" width="4.4" height="5.6" fill="#fff" stroke="#661111" stroke-width="0.6"/>
<rect x="596.2" y="98.12" width="2.2" height="5.6" fill="#661111" stroke="#661111" stroke-width="0.6"/>
<rect x="598.4" y="91.38" width="4.4" height="5.6" fill="#fff" stroke="#661111" stroke-width="0.6"/>
<rect x="600.6" y="91.38" width="2.2" height="5.6" fill="#661111" stroke="#661111" stroke-width="0.6"/>
<rect x="602.8" y="86.17" width="4.4" height="5.6" fill="#fff" stroke="#661111" stroke-width="0.6"/>
<rect x="605" y="86.17" width="2.2" height="5.6" fill="#661111" stroke="#661111" stroke-width="0.6"/>
<rect x="607.2" y="82.7" width="4.4" height="5.6" fill="#fff" stroke="#661111" stroke-width="0.6"/>
<rect x="609.4" y="82.7" width="2.2" height="5.6" fill="#661111" stroke="#661111" stroke-width="0.6"/>
<rect x="611.6" y="79.76" width="4.4" height="5.6" fill="#fff" stroke="#661111" stroke-width="0.6"/>
<rect x="613.8" y="79.76" width="2.2" height="5.6" fill="#661111" stroke="#661111" stroke-width="0.6"/>
<rect x="616" y="76.44" width="4.4" height="5.6" fill="#fff" stroke="#661111" stroke-width="0.6"/>
<rect x="618.2" y="76.44" width="2.2" height="5.6" fill="#661111" stroke="#661111" stroke-width="0.6"/>
<rect x="620.4" y="72.72" width="4.4" height="5.6" fill="#fff" stroke="#661111" stroke-width="0.6"/>
<rect x="622.6" y="72.72" width="2.2" height="5.6" fill="#661111" stroke="#661111" stroke-width="0.6"/>
<rect x="624.8" y="69.34" width="4.4" height="5.6" fill="#fff" stroke="#661111" stroke-width="0.6"/>
<rect x="627" y="69.34" width="2.2" height="5.6" fill="#661111" stroke="#661111" stroke-width="0.6"/>
<rect x="629.2" y="66.22" width="4.4" height="5.6" fill="#fff" stroke="#661111" stroke-width="0.6"/>
<rect x="631.4" y="66.22" width="2.2" height="5.6" fill="#661111" stroke="#661111" stroke-width="0.6"/>
<rect x="633.6" y="63.09" width="4.4" height="5.6" fill="#fff" stroke="#661111" stroke-width="0.6"/>
<rect x="635.8" y="63.09" width="2.2" height="5.6" fill="#661111" stroke="#661111" stroke-width="0.6"/>
<rect x="638" y="59.91" width="4.4" height="5.6" fill="#fff" stroke="#661111" stroke-width="0.6"/>
<rect x="640.2" y="59.91" width="2.2" height="5.6" fill="#661111" stroke="#661111" stroke-width="0.6"/>
<rect x="642.4" y="56.8" width="4.4" height="5.6" fill="#fff" stroke="#661111" stroke-width="0.6"/>
<rect x="644.6" y="56.8" width="2.2" height="5.6" fill="#661111" stroke="#661111" stroke-width="0.6"/>
<polyline points="380.6,200.58 385,201.87 389.4,203.16 393.8,204.46 398.2,205.79 402.6,207.17 407,208.59 411.4,210.03 415.8,211.43 420.2,212.72 424.6,213.86 429,214.8 433.4,215.56 437.8,216.12 442.2,216.47 446.6,216.65 451,215.92 455.4,214.06 459.8,211.54 464.2,208.86 468.6,205.8 473,201.75 477.4,196.37 481.8,190.41 486.2,184.62 490.6,178.75 495,173.53 499.4,169.28 503.8,165.43 508.2,161.33 512.6,158.92 517,157.26 521.4,155.8 525.8,154.4 530.2,153 534.6,151.71 539,150.46 543.4,149.15 547.8,147.68 552.2,146.03 556.6,144.25 561,142.42 565.4,140.64 569.8,138.9 574.2,137.16 578.6,135.52 583,134.15 587.4,133.22 591.8,133.04 596.2,133.79 600.6,134.58 605,135.1 609.4,135.55 613.8,135.98 618.2,136.45 622.6,136.85 627,136.99 631.4,136.66 635.8,135.92 640.2,135.05 644.6,133.99" fill="none" stroke="#d81b1f" stroke-width="1.2"/>
<ellipse cx="380.6" cy="200.58" rx="2.4" ry="2.7" fill="#fff" stroke="#d81b1f" stroke-width="0.6"/>
<path d="M380.6,197.88 A2.4,2.7 0 0 1 380.6,203.28 Z" fill="#d81b1f" stroke="#d81b1f" stroke-width="0.6"/>
<ellipse cx="385" cy="201.87" rx="2.4" ry="2.7" fill="#fff" stroke="#d81b1f" stroke-width="0.6"/>
<path d="M385,199.17 A2.4,2.7 0 0 1 385,204.57 Z" fill="#d81b1f" stroke="#d81b1f" stroke-width="0.6"/>
<ellipse cx="389.4" cy="203.16" rx="2.4" ry="2.7" fill="#fff" stroke="#d81b1f" stroke-width="0.6"/>
<path d="M389.4,200.46 A2.4,2.7 0 0 1 389.4,205.86 Z" fill="#d81b1f" stroke="#d81b1f" stroke-width="0.6"/>
<ellipse cx="393.8" cy="204.46" rx="2.4" ry="2.7" fill="#fff" stroke="#d81b1f" stroke-width="0.6"/>
<path d="M393.8,201.76 A2.4,2.7 0 0 1 393.8,207.16 Z" fill="#d81b1f" stroke="#d81b1f" stroke-width="0.6"/>
<ellipse cx="398.2" cy="205.79" rx="2.4" ry="2.7" fill="#fff" stroke="#d81b1f" stroke-width="0.6"/>
<path d="M398.2,203.09 A2.4,2.7 0 0 1 398.2,208.49 Z" fill="#d81b1f" stroke="#d81b1f" stroke-width="0.6"/>
<ellipse cx="402.6" cy="207.17" rx="2.4" ry="2.7" fill="#fff" stroke="#d81b1f" stroke-width="0.6"/>
<path d="M402.6,204.47 A2.4,2.7 0 0 1 402.6,209.87 Z" fill="#d81b1f" stroke="#d81b1f" stroke-width="0.6"/>
<ellipse cx="407" cy="208.59" rx="2.4" ry="2.7" fill="#fff" stroke="#d81b1f" stroke-width="0.6"/>
<path d="M407,205.89 A2.4,2.7 0 0 1 407,211.29 Z" fill="#d81b1f" stroke="#d81b1f" stroke-width="0.6"/>
<ellipse cx="411.4" cy="210.03" rx="2.4" ry="2.7" fill="#fff" stroke="#d81b1f" stroke-width="0.6"/>
<path d="M411.4,207.33 A2.4,2.7 0 0 1 411.4,212.73 Z" fill="#d81b1f" stroke="#d81b1f" stroke-width="0.6"/>
<ellipse cx="415.8" cy="211.43" rx="2.4" ry="2.7" fill="#fff" stroke="#d81b1f" stroke-width="0.6"/>
<path d="M415.8,208.73 A2.4,2.7 0 0 1 415.8,214.13 Z" fill="#d81b1f" stroke="#d81b1f" stroke-width="0.6"/>
<ellipse cx="420.2" cy="212.72" rx="2.4" ry="2.7" fill="#fff" stroke="#d81b1f" stroke-width="0.6"/>
<path d="M420.2,210.02 A2.4,2.7 0 0 1 420.2,215.42 Z" fill="#d81b1f" stroke="#d81b1f" stroke-width="0.6"/>
<ellipse cx="424.6" cy="213.86" rx="2.4" ry="2.7" fill="#fff" stroke="#d81b1f" stroke-width="0.6"/>
<path d="M424.6,211.16 A2.4,2.7 0 0 1 424.6,216.56 Z" fill="#d81b1f" stroke="#d81b1f" stroke-width="0.6"/>
<ellipse cx="429" cy="214.8" rx="2.4" ry="2.7" fill="#fff" stroke="#d81b1f" stroke-width="0.6"/>
<path d="M429,212.1 A2.4,2.7 0 0 1 429,217.5 Z" fill="#d81b1f" stroke="#d81b1f" stroke-width="0.6"/>
<ellipse cx="433.4" cy="215.56" rx="2.4" ry="2.7" fill="#fff" stroke="#d81b1f" stroke-width="0.6"/>
<path d="M433.4,212.86 A2.4,2.7 0 0 1 433.4,218.26 Z" fill="#d81b1f" stroke="#d81b1f" stroke-width="0.6"/>
<ellipse cx="437.8" cy="216.12" rx="2.4" ry="2.7" fill="#fff" stroke="#d81b1f" stroke-width="0.6"/>
<path d="M437.8,213.42 A2.4,2.7 0 0 1 437.8,218.82 Z" fill="#d81b1f" stroke="#d81b1f" stroke-width="0.6"/>
<ellipse cx="442.2" cy="216.47" rx="2.4" ry="2.7" fill="#fff" stroke="#d81b1f" stroke-width="0.6"/>
<path d="M442.2,213.77 A2.4,2.7 0 0 1 442.2,219.17 Z" fill="#d81b1f" stroke="#d81b1f" stroke-width="0.6"/>
<ellipse cx="446.6" cy="216.65" rx="2.4" ry="2.7" fill="#fff" stroke="#d81b1f" stroke-width="0.6"/>
<path d="M446.6,213.95 A2.4,2.7 0 0 1 446.6,219.35 Z" fill="#d81b1f" stroke="#d81b1f" stroke-width="0.6"/>
<ellipse cx="451" cy="215.92" rx="2.4" ry="2.7" fill="#fff" stroke="#d81b1f" stroke-width="0.6"/>
<path d="M451,213.22 A2.4,2.7 0 0 1 451,218.62 Z" fill="#d81b1f" stroke="#d81b1f" stroke-width="0.6"/>
<ellipse cx="455.4" cy="214.06" rx="2.4" ry="2.7" fill="#fff" stroke="#d81b1f" stroke-width="0.6"/>
<path d="M455.4,211.36 A2.4,2.7 0 0 1 455.4,216.76 Z" fill="#d81b1f" stroke="#d81b1f" stroke-width="0.6"/>
<ellipse cx="459.8" cy="211.54" rx="2.4" ry="2.7" fill="#fff" stroke="#d81b1f" stroke-width="0.6"/>
<path d="M459.8,208.84 A2.4,2.7 0 0 1 459.8,214.24 Z" fill="#d81b1f" stroke="#d81b1f" stroke-width="0.6"/>
<ellipse cx="464.2" cy="208.86" rx="2.4" ry="2.7" fill="#fff" stroke="#d81b1f" stroke-width="0.6"/>
<path d="M464.2,206.16 A2.4,2.7 0 0 1 464.2,211.56 Z" fill="#d81b1f" stroke="#d81b1f" stroke-width="0.6"/>
<ellipse cx="468.6" cy="205.8" rx="2.4" ry="2.7" fill="#fff" stroke="#d81b1f" stroke-width="0.6"/>
<path d="M468.6,203.1 A2.4,2.7 0 0 1 468.6,208.5 Z" fill="#d81b1f" stroke="#d81b1f" stroke-width="0.6"/>
<ellipse cx="473" cy="201.75" rx="2.4" ry="2.7" fill="#fff" stroke="#d81b1f" stroke-width="0.6"/>
<path d="M473,199.05 A2.4,2.7 0 0 1 473,204.45 Z" fill="#d81b1f" stroke="#d81b1f" stroke-width="0.6"/>
<ellipse cx="477.4" cy="196.37" rx="2.4" ry="2.7" fill="#fff" stroke="#d81b1f" stroke-width="0.6"/>
<path d="M477.4,193.67 A2.4,2.7 0 0 1 477.4,199.07 Z" fill="#d81b1f" stroke="#d81b1f" stroke-width="0.6"/>
<ellipse cx="481.8" cy="190.41" rx="2.4" ry="2.7" fill="#fff" stroke="#d81b1f" stroke-width="0.6"/>
<path d="M481.8,187.71 A2.4,2.7 0 0 1 481.8,193.11 Z" fill="#d81b1f" stroke="#d81b1f" stroke-width="0.6"/>
<ellipse cx="486.2" cy="184.62" rx="2.4" ry="2.7" fill="#fff" stroke="#d81b1f" stroke-width="0.6"/>
<path d="M486.2,181.92 A2.4,2.7 0 0 1 486.2,187.32 Z" fill="#d81b1f" stroke="#d81b1f" stroke-width="0.6"/>
<ellipse cx="490.6" cy="178.75" rx="2.4" ry="2.7" fill="#fff" stroke="#d81b1f" stroke-width="0.6"/>
<path d="M490.6,176.05 A2.4,2.7 0 0 1 490.6,181.45 Z" fill="#d81b1f" stroke="#d81b1f" stroke-width="0.6"/>
<ellipse cx="495" cy="173.53" rx="2.4" ry="2.7" fill="#fff" stroke="#d81b1f" stroke-width="0.6"/>
<path d="M495,170.83 A2.4,2.7 0 0 1 495,176.23 Z" fill="#d81b1f" stroke="#d81b1f" stroke-width="0.6"/>
<ellipse cx="499.4" cy="169.28" rx="2.4" ry="2.7" fill="#fff" stroke="#d81b1f" stroke-width="0.6"/>
<path d="M499.4,166.58 A2.4,2.7 0 0 1 499.4,171.98 Z" fill="#d81b1f" stroke="#d81b1f" stroke-width="0.6"/>
<ellipse cx="503.8" cy="165.43" rx="2.4" ry="2.7" fill="#fff" stroke="#d81b1f" stroke-width="0.6"/>
<path d="M503.8,162.73 A2.4,2.7 0 0 1 503.8,168.13 Z" fill="#d81b1f" stroke="#d81b1f" stroke-width="0.6"/>
<ellipse cx="508.2" cy="161.33" rx="2.4" ry="2.7" fill="#fff" stroke="#d81b1f" stroke-width="0.6"/>
<path d="M508.2,158.63 A2.4,2.7 0 0 1 508.2,164.03 Z" fill="#d81b1f" stroke="#d81b1f" stroke-width="0.6"/>
<ellipse cx="512.6" cy="158.92" rx="2.4" ry="2.7" fill="#fff" stroke="#d81b1f" stroke-width="0.6"/>
<path d="M512.6,156.22 A2.4,2.7 0 0 1 512.6,161.62 Z" fill="#d81b1f" stroke="#d81b1f" stroke-width="0.6"/>
<ellipse cx="517" cy="157.26" rx="2.4" ry="2.7" fill="#fff" stroke="#d81b1f" stroke-width="0.6"/>
<path d="M517,154.56 A2.4,2.7 0 0 1 517,159.96 Z" fill="#d81b1f" stroke="#d81b1f" stroke-width="0.6"/>
<ellipse cx="521.4" cy="155.8" rx="2.4" ry="2.7" fill="#fff" stroke="#d81b1f" stroke-width="0.6"/>
<path d="M521.4,153.1 A2.4,2.7 0 0 1 521.4,158.5 Z" fill="#d81b1f" stroke="#d81b1f" stroke-width="0.6"/>
<ellipse cx="525.8" cy="154.4" rx="2.4" ry="2.7" fill="#fff" stroke="#d81b1f" stroke-width="0.6"/>
<path d="M525.8,151.7 A2.4,2.7 0 0 1 525.8,157.1 Z" fill="#d81b1f" stroke="#d81b1f" stroke-width="0.6"/>
<ellipse cx="530.2" cy="153" rx="2.4" ry="2.7" fill="#fff" stroke="#d81b1f" stroke-width="0.6"/>
<path d="M530.2,150.3 A2.4,2.7 0 0 1 530.2,155.7 Z" fill="#d81b1f" stroke="#d81b1f" stroke-width="0.6"/>
<ellipse cx="534.6" cy="151.71" rx="2.4" ry="2.7" fill="#fff" stroke="#d81b1f" stroke-width="0.6"/>
<path d="M534.6,149.01 A2.4,2.7 0 0 1 534.6,154.41 Z" fill="#d81b1f" stroke="#d81b1f" stroke-width="0.6"/>
<ellipse cx="539" cy="150.46" rx="2.4" ry="2.7" fill="#fff" stroke="#d81b1f" stroke-width="0.6"/>
<path d="M539,147.76 A2.4,2.7 0 0 1 539,153.16 Z" fill="#d81b1f" stroke="#d81b1f" stroke-width="0.6"/>
<ellipse cx="543.4" cy="149.15" rx="2.4" ry="2.7" fill="#fff" stroke="#d81b1f" stroke-width="0.6"/>
<path d="M543.4,146.45 A2.4,2.7 0 0 1 543.4,151.85 Z" fill="#d81b1f" stroke="#d81b1f" stroke-width="0.6"/>
<ellipse cx="547.8" cy="147.68" rx="2.4" ry="2.7" fill="#fff" stroke="#d81b1f" stroke-width="0.6"/>
<path d="M547.8,144.98 A2.4,2.7 0 0 1 547.8,150.38 Z" fill="#d81b1f" stroke="#d81b1f" stroke-width="0.6"/>
<ellipse cx="552.2" cy="146.03" rx="2.4" ry="2.7" fill="#fff" stroke="#d81b1f" stroke-width="0.6"/>
<path d="M552.2,143.33 A2.4,2.7 0 0 1 552.2,148.73 Z" fill="#d81b1f" stroke="#d81b1f" stroke-width="0.6"/>
<ellipse cx="556.6" cy="144.25" rx="2.4" ry="2.7" fill="#fff" stroke="#d81b1f" stroke-width="0.6"/>
<path d="M556.6,141.55 A2.4,2.7 0 0 1 556.6,146.95 Z" fill="#d81b1f" stroke="#d81b1f" stroke-width="0.6"/>
<ellipse cx="561" cy="142.42" rx="2.4" ry="2.7" fill="#fff" stroke="#d81b1f" stroke-width="0.6"/>
<path d="M561,139.72 A2.4,2.7 0 0 1 561,145.12 Z" fill="#d81b1f" stroke="#d81b1f" stroke-width="0.6"/>
<ellipse cx="565.4" cy="140.64" rx="2.4" ry="2.7" fill="#fff" stroke="#d81b1f" stroke-width="0.6"/>
<path d="M565.4,137.94 A2.4,2.7 0 0 1 565.4,143.34 Z" fill="#d81b1f" stroke="#d81b1f" stroke-width="0.6"/>
<ellipse cx="569.8" cy="138.9" rx="2.4" ry="2.7" fill="#fff" stroke="#d81b1f" stroke-width="0.6"/>
<path d="M569.8,136.2 A2.4,2.7 0 0 1 569.8,141.6 Z" fill="#d81b1f" stroke="#d81b1f" stroke-width="0.6"/>
<ellipse cx="574.2" cy="137.16" rx="2.4" ry="2.7" fill="#fff" stroke="#d81b1f" stroke-width="0.6"/>
<path d="M574.2,134.46 A2.4,2.7 0 0 1 574.2,139.86 Z" fill="#d81b1f" stroke="#d81b1f" stroke-width="0.6"/>
<ellipse cx="578.6" cy="135.52" rx="2.4" ry="2.7" fill="#fff" stroke="#d81b1f" stroke-width="0.6"/>
<path d="M578.6,132.82 A2.4,2.7 0 0 1 578.6,138.22 Z" fill="#d81b1f" stroke="#d81b1f" stroke-width="0.6"/>
<ellipse cx="583" cy="134.15" rx="2.4" ry="2.7" fill="#fff" stroke="#d81b1f" stroke-width="0.6"/>
<path d="M583,131.45 A2.4,2.7 0 0 1 583,136.85 Z" fill="#d81b1f" stroke="#d81b1f" stroke-width="0.6"/>
<ellipse cx="587.4" cy="133.22" rx="2.4" ry="2.7" fill="#fff" stroke="#d81b1f" stroke-width="0.6"/>
<path d="M587.4,130.52 A2.4,2.7 0 0 1 587.4,135.92 Z" fill="#d81b1f" stroke="#d81b1f" stroke-width="0.6"/>
<ellipse cx="591.8" cy="133.04" rx="2.4" ry="2.7" fill="#fff" stroke="#d81b1f" stroke-width="0.6"/>
<path d="M591.8,130.34 A2.4,2.7 0 0 1 591.8,135.74 Z" fill="#d81b1f" stroke="#d81b1f" stroke-width="0.6"/>
<ellipse cx="596.2" cy="133.79" rx="2.4" ry="2.7" fill="#fff" stroke="#d81b1f" stroke-width="0.6"/>
<path d="M596.2,131.09 A2.4,2.7 0 0 1 596.2,136.49 Z" fill="#d81b1f" stroke="#d81b1f" stroke-width="0.6"/>
<ellipse cx="600.6" cy="134.58" rx="2.4" ry="2.7" fill="#fff" stroke="#d81b1f" stroke-width="0.6"/>
<path d="M600.6,131.88 A2.4,2.7 0 0 1 600.6,137.28 Z" fill="#d81b1f" stroke="#d81b1f" stroke-width="0.6"/>
<ellipse cx="605" cy="135.1" rx="2.4" ry="2.7" fill="#fff" stroke="#d81b1f" stroke-width="0.6"/>
<path d="M605,132.4 A2.4,2.7 0 0 1 605,137.8 Z" fill="#d81b1f" stroke="#d81b1f" stroke-width="0.6"/>
<ellipse cx="609.4" cy="135.55" rx="2.4" ry="2.7" fill="#fff" stroke="#d81b1f" stroke-width="0.6"/>
<path d="M609.4,132.85 A2.4,2.7 0 0 1 609.4,138.25 Z" fill="#d81b1f" stroke="#d81b1f" stroke-width="0.6"/>
<ellipse cx="613.8" cy="135.98" rx="2.4" ry="2.7" fill="#fff" stroke="#d81b1f" stroke-width="0.6"/>
<path d="M613.8,133.28 A2.4,2.7 0 0 1 613.8,138.68 Z" fill="#d81b1f" stroke="#d81b1f" stroke-width="0.6"/>
<ellipse cx="618.2" cy="136.45" rx="2.4" ry="2.7" fill="#fff" stroke="#d81b1f" stroke-width="0.6"/>
<path d="M618.2,133.75 A2.4,2.7 0 0 1 618.2,139.15 Z" fill="#d81b1f" stroke="#d81b1f" stroke-width="0.6"/>
<ellipse cx="622.6" cy="136.85" rx="2.4" ry="2.7" fill="#fff" stroke="#d81b1f" stroke-width="0.6"/>
<path d="M622.6,134.15 A2.4,2.7 0 0 1 622.6,139.55 Z" fill="#d81b1f" stroke="#d81b1f" stroke-width="0.6"/>
<ellipse cx="627" cy="136.99" rx="2.4" ry="2.7" fill="#fff" stroke="#d81b1f" stroke-width="0.6"/>
<path d="M627,134.29 A2.4,2.7 0 0 1 627,139.69 Z" fill="#d81b1f" stroke="#d81b1f" stroke-width="0.6"/>
<ellipse cx="631.4" cy="136.66" rx="2.4" ry="2.7" fill="#fff" stroke="#d81b1f" stroke-width="0.6"/>
<path d="M631.4,133.96 A2.4,2.7 0 0 1 631.4,139.36 Z" fill="#d81b1f" stroke="#d81b1f" stroke-width="0.6"/>
<ellipse cx="635.8" cy="135.92" rx="2.4" ry="2.7" fill="#fff" stroke="#d81b1f" stroke-width="0.6"/>
<path d="M635.8,133.22 A2.4,2.7 0 0 1 635.8,138.62 Z" fill="#d81b1f" stroke="#d81b1f" stroke-width="0.6"/>
<ellipse cx="640.2" cy="135.05" rx="2.4" ry="2.7" fill="#fff" stroke="#d81b1f" stroke-width="0.6"/>
<path d="M640.2,132.35 A2.4,2.7 0 0 1 640.2,137.75 Z" fill="#d81b1f" stroke="#d81b1f" stroke-width="0.6"/>
<ellipse cx="644.6" cy="133.99" rx="2.4" ry="2.7" fill="#fff" stroke="#d81b1f" stroke-width="0.6"/>
<path d="M644.6,131.29 A2.4,2.7 0 0 1 644.6,136.69 Z" fill="#d81b1f" stroke="#d81b1f" stroke-width="0.6"/>
<polyline points="380.6,180.2 385,179.42 389.4,178.71 393.8,178.12 398.2,177.61 402.6,177.61 407,178.18 411.4,179.04 415.8,179.99 420.2,180.94 424.6,181.99 429,183.2 433.4,184.65 437.8,186.23 442.2,187.77 446.6,189.31 451,190.56 455.4,191.64 459.8,192.65 464.2,193.58 468.6,194.36 473,194.91 477.4,195.17 481.8,195.17 486.2,194.82 490.6,193.91 495,192.55 499.4,190.36 503.8,186.62 508.2,181.97 512.6,176.54 517,170.48 521.4,163.99 525.8,157.16 530.2,149.8 534.6,141.17 539,132.56 543.4,125.53 547.8,119.42 552.2,113.86 556.6,109.2 561,104.99 565.4,101.26 569.8,98.16 574.2,95.71 578.6,93.88 583,92.44 587.4,90.94 591.8,89.01 596.2,86.72 600.6,84.24 605,81.63 609.4,78.86 613.8,75.96 618.2,72.9 622.6,69.84 627,66.83 631.4,63.89 635.8,61.16 640.2,58.63 644.6,56.17" fill="none" stroke="#1010c4" stroke-width="1.2"/>
<path d="M380.6,176.79 L383,182.99 L378.2,182.99 Z" fill="#fff" stroke="#1010c4" stroke-width="0.6" stroke-linejoin="miter"/>
<path d="M380.6,176.79 L383,182.99 L380.6,182.99 Z" fill="#1010c4" stroke="#1010c4" stroke-width="0.6"/>
<path d="M385,176.01 L387.4,182.21 L382.6,182.21 Z" fill="#fff" stroke="#1010c4" stroke-width="0.6" stroke-linejoin="miter"/>
<path d="M385,176.01 L387.4,182.21 L385,182.21 Z" fill="#1010c4" stroke="#1010c4" stroke-width="0.6"/>
<path d="M389.4,175.3 L391.8,181.5 L387,181.5 Z" fill="#fff" stroke="#1010c4" stroke-width="0.6" stroke-linejoin="miter"/>
<path d="M389.4,175.3 L391.8,181.5 L389.4,181.5 Z" fill="#1010c4" stroke="#1010c4" stroke-width="0.6"/>
<path d="M393.8,174.71 L396.2,180.91 L391.4,180.91 Z" fill="#fff" stroke="#1010c4" stroke-width="0.6" stroke-linejoin="miter"/>
<path d="M393.8,174.71 L396.2,180.91 L393.8,180.91 Z" fill="#1010c4" stroke="#1010c4" stroke-width="0.6"/>
<path d="M398.2,174.2 L400.6,180.4 L395.8,180.4 Z" fill="#fff" stroke="#1010c4" stroke-width="0.6" stroke-linejoin="miter"/>
<path d="M398.2,174.2 L400.6,180.4 L398.2,180.4 Z" fill="#1010c4" stroke="#1010c4" stroke-width="0.6"/>
<path d="M402.6,174.2 L405,180.4 L400.2,180.4 Z" fill="#fff" stroke="#1010c4" stroke-width="0.6" stroke-linejoin="miter"/>
<path d="M402.6,174.2 L405,180.4 L402.6,180.4 Z" fill="#1010c4" stroke="#1010c4" stroke-width="0.6"/>
<path d="M407,174.77 L409.4,180.97 L404.6,180.97 Z" fill="#fff" stroke="#1010c4" stroke-width="0.6" stroke-linejoin="miter"/>
<path d="M407,174.77 L409.4,180.97 L407,180.97 Z" fill="#1010c4" stroke="#1010c4" stroke-width="0.6"/>
<path d="M411.4,175.63 L413.8,181.83 L409,181.83 Z" fill="#fff" stroke="#1010c4" stroke-width="0.6" stroke-linejoin="miter"/>
<path d="M411.4,175.63 L413.8,181.83 L411.4,181.83 Z" fill="#1010c4" stroke="#1010c4" stroke-width="0.6"/>
<path d="M415.8,176.58 L418.2,182.78 L413.4,182.78 Z" fill="#fff" stroke="#1010c4" stroke-width="0.6" stroke-linejoin="miter"/>
<path d="M415.8,176.58 L418.2,182.78 L415.8,182.78 Z" fill="#1010c4" stroke="#1010c4" stroke-width="0.6"/>
<path d="M420.2,177.53 L422.6,183.73 L417.8,183.73 Z" fill="#fff" stroke="#1010c4" stroke-width="0.6" stroke-linejoin="miter"/>
<path d="M420.2,177.53 L422.6,183.73 L420.2,183.73 Z" fill="#1010c4" stroke="#1010c4" stroke-width="0.6"/>
<path d="M424.6,178.58 L427,184.78 L422.2,184.78 Z" fill="#fff" stroke="#1010c4" stroke-width="0.6" stroke-linejoin="miter"/>
<path d="M424.6,178.58 L427,184.78 L424.6,184.78 Z" fill="#1010c4" stroke="#1010c4" stroke-width="0.6"/>
<path d="M429,179.79 L431.4,185.99 L426.6,185.99 Z" fill="#fff" stroke="#1010c4" stroke-width="0.6" stroke-linejoin="miter"/>
<path d="M429,179.79 L431.4,185.99 L429,185.99 Z" fill="#1010c4" stroke="#1010c4" stroke-width="0.6"/>
<path d="M433.4,181.24 L435.8,187.44 L431,187.44 Z" fill="#fff" stroke="#1010c4" stroke-width="0.6" stroke-linejoin="miter"/>
<path d="M433.4,181.24 L435.8,187.44 L433.4,187.44 Z" fill="#1010c4" stroke="#1010c4" stroke-width="0.6"/>
<path d="M437.8,182.82 L440.2,189.02 L435.4,189.02 Z" fill="#fff" stroke="#1010c4" stroke-width="0.6" stroke-linejoin="miter"/>
<path d="M437.8,182.82 L440.2,189.02 L437.8,189.02 Z" fill="#1010c4" stroke="#1010c4" stroke-width="0.6"/>
<path d="M442.2,184.36 L444.6,190.56 L439.8,190.56 Z" fill="#fff" stroke="#1010c4" stroke-width="0.6" stroke-linejoin="miter"/>
<path d="M442.2,184.36 L444.6,190.56 L442.2,190.56 Z" fill="#1010c4" stroke="#1010c4" stroke-width="0.6"/>
<path d="M446.6,185.9 L449,192.1 L444.2,192.1 Z" fill="#fff" stroke="#1010c4" stroke-width="0.6" stroke-linejoin="miter"/>
<path d="M446.6,185.9 L449,192.1 L446.6,192.1 Z" fill="#1010c4" stroke="#1010c4" stroke-width="0.6"/>
<path d="M451,187.15 L453.4,193.35 L448.6,193.35 Z" fill="#fff" stroke="#1010c4" stroke-width="0.6" stroke-linejoin="miter"/>
<path d="M451,187.15 L453.4,193.35 L451,193.35 Z" fill="#1010c4" stroke="#1010c4" stroke-width="0.6"/>
<path d="M455.4,188.23 L457.8,194.43 L453,194.43 Z" fill="#fff" stroke="#1010c4" stroke-width="0.6" stroke-linejoin="miter"/>
<path d="M455.4,188.23 L457.8,194.43 L455.4,194.43 Z" fill="#1010c4" stroke="#1010c4" stroke-width="0.6"/>
<path d="M459.8,189.24 L462.2,195.44 L457.4,195.44 Z" fill="#fff" stroke="#1010c4" stroke-width="0.6" stroke-linejoin="miter"/>
<path d="M459.8,189.24 L462.2,195.44 L459.8,195.44 Z" fill="#1010c4" stroke="#1010c4" stroke-width="0.6"/>
<path d="M464.2,190.17 L466.6,196.37 L461.8,196.37 Z" fill="#fff" stroke="#1010c4" stroke-width="0.6" stroke-linejoin="miter"/>
<path d="M464.2,190.17 L466.6,196.37 L464.2,196.37 Z" fill="#1010c4" stroke="#1010c4" stroke-width="0.6"/>
<path d="M468.6,190.95 L471,197.15 L466.2,197.15 Z" fill="#fff" stroke="#1010c4" stroke-width="0.6" stroke-linejoin="miter"/>
<path d="M468.6,190.95 L471,197.15 L468.6,197.15 Z" fill="#1010c4" stroke="#1010c4" stroke-width="0.6"/>
<path d="M473,191.5 L475.4,197.7 L470.6,197.7 Z" fill="#fff" stroke="#1010c4" stroke-width="0.6" stroke-linejoin="miter"/>
<path d="M473,191.5 L475.4,197.7 L473,197.7 Z" fill="#1010c4" stroke="#1010c4" stroke-width="0.6"/>
<path d="M477.4,191.76 L479.8,197.96 L475,197.96 Z" fill="#fff" stroke="#1010c4" stroke-width="0.6" stroke-linejoin="miter"/>
<path d="M477.4,191.76 L479.8,197.96 L477.4,197.96 Z" fill="#1010c4" stroke="#1010c4" stroke-width="0.6"/>
<path d="M481.8,191.76 L484.2,197.96 L479.4,197.96 Z" fill="#fff" stroke="#1010c4" stroke-width="0.6" stroke-linejoin="miter"/>
<path d="M481.8,191.76 L484.2,197.96 L481.8,197.96 Z" fill="#1010c4" stroke="#1010c4" stroke-width="0.6"/>
<path d="M486.2,191.41 L488.6,197.61 L483.8,197.61 Z" fill="#fff" stroke="#1010c4" stroke-width="0.6" stroke-linejoin="miter"/>
<path d="M486.2,191.41 L488.6,197.61 L486.2,197.61 Z" fill="#1010c4" stroke="#1010c4" stroke-width="0.6"/>
<path d="M490.6,190.5 L493,196.7 L488.2,196.7 Z" fill="#fff" stroke="#1010c4" stroke-width="0.6" stroke-linejoin="miter"/>
<path d="M490.6,190.5 L493,196.7 L490.6,196.7 Z" fill="#1010c4" stroke="#1010c4" stroke-width="0.6"/>
<path d="M495,189.14 L497.4,195.34 L492.6,195.34 Z" fill="#fff" stroke="#1010c4" stroke-width="0.6" stroke-linejoin="miter"/>
<path d="M495,189.14 L497.4,195.34 L495,195.34 Z" fill="#1010c4" stroke="#1010c4" stroke-width="0.6"/>
<path d="M499.4,186.95 L501.8,193.15 L497,193.15 Z" fill="#fff" stroke="#1010c4" stroke-width="0.6" stroke-linejoin="miter"/>
<path d="M499.4,186.95 L501.8,193.15 L499.4,193.15 Z" fill="#1010c4" stroke="#1010c4" stroke-width="0.6"/>
<path d="M503.8,183.21 L506.2,189.41 L501.4,189.41 Z" fill="#fff" stroke="#1010c4" stroke-width="0.6" stroke-linejoin="miter"/>
<path d="M503.8,183.21 L506.2,189.41 L503.8,189.41 Z" fill="#1010c4" stroke="#1010c4" stroke-width="0.6"/>
<path d="M508.2,178.56 L510.6,184.76 L505.8,184.76 Z" fill="#fff" stroke="#1010c4" stroke-width="0.6" stroke-linejoin="miter"/>
<path d="M508.2,178.56 L510.6,184.76 L508.2,184.76 Z" fill="#1010c4" stroke="#1010c4" stroke-width="0.6"/>
<path d="M512.6,173.13 L515,179.33 L510.2,179.33 Z" fill="#fff" stroke="#1010c4" stroke-width="0.6" stroke-linejoin="miter"/>
<path d="M512.6,173.13 L515,179.33 L512.6,179.33 Z" fill="#1010c4" stroke="#1010c4" stroke-width="0.6"/>
<path d="M517,167.07 L519.4,173.27 L514.6,173.27 Z" fill="#fff" stroke="#1010c4" stroke-width="0.6" stroke-linejoin="miter"/>
<path d="M517,167.07 L519.4,173.27 L517,173.27 Z" fill="#1010c4" stroke="#1010c4" stroke-width="0.6"/>
<path d="M521.4,160.58 L523.8,166.78 L519,166.78 Z" fill="#fff" stroke="#1010c4" stroke-width="0.6" stroke-linejoin="miter"/>
<path d="M521.4,160.58 L523.8,166.78 L521.4,166.78 Z" fill="#1010c4" stroke="#1010c4" stroke-width="0.6"/>
<path d="M525.8,153.75 L528.2,159.95 L523.4,159.95 Z" fill="#fff" stroke="#1010c4" stroke-width="0.6" stroke-linejoin="miter"/>
<path d="M525.8,153.75 L528.2,159.95 L525.8,159.95 Z" fill="#1010c4" stroke="#1010c4" stroke-width="0.6"/>
<path d="M530.2,146.39 L532.6,152.59 L527.8,152.59 Z" fill="#fff" stroke="#1010c4" stroke-width="0.6" stroke-linejoin="miter"/>
<path d="M530.2,146.39 L532.6,152.59 L530.2,152.59 Z" fill="#1010c4" stroke="#1010c4" stroke-width="0.6"/>
<path d="M534.6,137.76 L537,143.96 L532.2,143.96 Z" fill="#fff" stroke="#1010c4" stroke-width="0.6" stroke-linejoin="miter"/>
<path d="M534.6,137.76 L537,143.96 L534.6,143.96 Z" fill="#1010c4" stroke="#1010c4" stroke-width="0.6"/>
<path d="M539,129.15 L541.4,135.35 L536.6,135.35 Z" fill="#fff" stroke="#1010c4" stroke-width="0.6" stroke-linejoin="miter"/>
<path d="M539,129.15 L541.4,135.35 L539,135.35 Z" fill="#1010c4" stroke="#1010c4" stroke-width="0.6"/>
<path d="M543.4,122.12 L545.8,128.32 L541,128.32 Z" fill="#fff" stroke="#1010c4" stroke-width="0.6" stroke-linejoin="miter"/>
<path d="M543.4,122.12 L545.8,128.32 L543.4,128.32 Z" fill="#1010c4" stroke="#1010c4" stroke-width="0.6"/>
<path d="M547.8,116.01 L550.2,122.21 L545.4,122.21 Z" fill="#fff" stroke="#1010c4" stroke-width="0.6" stroke-linejoin="miter"/>
<path d="M547.8,116.01 L550.2,122.21 L547.8,122.21 Z" fill="#1010c4" stroke="#1010c4" stroke-width="0.6"/>
<path d="M552.2,110.45 L554.6,116.65 L549.8,116.65 Z" fill="#fff" stroke="#1010c4" stroke-width="0.6" stroke-linejoin="miter"/>
<path d="M552.2,110.45 L554.6,116.65 L552.2,116.65 Z" fill="#1010c4" stroke="#1010c4" stroke-width="0.6"/>
<path d="M556.6,105.79 L559,111.99 L554.2,111.99 Z" fill="#fff" stroke="#1010c4" stroke-width="0.6" stroke-linejoin="miter"/>
<path d="M556.6,105.79 L559,111.99 L556.6,111.99 Z" fill="#1010c4" stroke="#1010c4" stroke-width="0.6"/>
<path d="M561,101.58 L563.4,107.78 L558.6,107.78 Z" fill="#fff" stroke="#1010c4" stroke-width="0.6" stroke-linejoin="miter"/>
<path d="M561,101.58 L563.4,107.78 L561,107.78 Z" fill="#1010c4" stroke="#1010c4" stroke-width="0.6"/>
<path d="M565.4,97.85 L567.8,104.05 L563,104.05 Z" fill="#fff" stroke="#1010c4" stroke-width="0.6" stroke-linejoin="miter"/>
<path d="M565.4,97.85 L567.8,104.05 L565.4,104.05 Z" fill="#1010c4" stroke="#1010c4" stroke-width="0.6"/>
<path d="M569.8,94.75 L572.2,100.95 L567.4,100.95 Z" fill="#fff" stroke="#1010c4" stroke-width="0.6" stroke-linejoin="miter"/>
<path d="M569.8,94.75 L572.2,100.95 L569.8,100.95 Z" fill="#1010c4" stroke="#1010c4" stroke-width="0.6"/>
<path d="M574.2,92.3 L576.6,98.5 L571.8,98.5 Z" fill="#fff" stroke="#1010c4" stroke-width="0.6" stroke-linejoin="miter"/>
<path d="M574.2,92.3 L576.6,98.5 L574.2,98.5 Z" fill="#1010c4" stroke="#1010c4" stroke-width="0.6"/>
<path d="M578.6,90.47 L581,96.67 L576.2,96.67 Z" fill="#fff" stroke="#1010c4" stroke-width="0.6" stroke-linejoin="miter"/>
<path d="M578.6,90.47 L581,96.67 L578.6,96.67 Z" fill="#1010c4" stroke="#1010c4" stroke-width="0.6"/>
<path d="M583,89.03 L585.4,95.23 L580.6,95.23 Z" fill="#fff" stroke="#1010c4" stroke-width="0.6" stroke-linejoin="miter"/>
<path d="M583,89.03 L585.4,95.23 L583,95.23 Z" fill="#1010c4" stroke="#1010c4" stroke-width="0.6"/>
<path d="M587.4,87.53 L589.8,93.73 L585,93.73 Z" fill="#fff" stroke="#1010c4" stroke-width="0.6" stroke-linejoin="miter"/>
<path d="M587.4,87.53 L589.8,93.73 L587.4,93.73 Z" fill="#1010c4" stroke="#1010c4" stroke-width="0.6"/>
<path d="M591.8,85.6 L594.2,91.8 L589.4,91.8 Z" fill="#fff" stroke="#1010c4" stroke-width="0.6" stroke-linejoin="miter"/>
<path d="M591.8,85.6 L594.2,91.8 L591.8,91.8 Z" fill="#1010c4" stroke="#1010c4" stroke-width="0.6"/>
<path d="M596.2,83.31 L598.6,89.51 L593.8,89.51 Z" fill="#fff" stroke="#1010c4" stroke-width="0.6" stroke-linejoin="miter"/>
<path d="M596.2,83.31 L598.6,89.51 L596.2,89.51 Z" fill="#1010c4" stroke="#1010c4" stroke-width="0.6"/>
<path d="M600.6,80.83 L603,87.03 L598.2,87.03 Z" fill="#fff" stroke="#1010c4" stroke-width="0.6" stroke-linejoin="miter"/>
<path d="M600.6,80.83 L603,87.03 L600.6,87.03 Z" fill="#1010c4" stroke="#1010c4" stroke-width="0.6"/>
<path d="M605,78.22 L607.4,84.42 L602.6,84.42 Z" fill="#fff" stroke="#1010c4" stroke-width="0.6" stroke-linejoin="miter"/>
<path d="M605,78.22 L607.4,84.42 L605,84.42 Z" fill="#1010c4" stroke="#1010c4" stroke-width="0.6"/>
<path d="M609.4,75.45 L611.8,81.65 L607,81.65 Z" fill="#fff" stroke="#1010c4" stroke-width="0.6" stroke-linejoin="miter"/>
<path d="M609.4,75.45 L611.8,81.65 L609.4,81.65 Z" fill="#1010c4" stroke="#1010c4" stroke-width="0.6"/>
<path d="M613.8,72.55 L616.2,78.75 L611.4,78.75 Z" fill="#fff" stroke="#1010c4" stroke-width="0.6" stroke-linejoin="miter"/>
<path d="M613.8,72.55 L616.2,78.75 L613.8,78.75 Z" fill="#1010c4" stroke="#1010c4" stroke-width="0.6"/>
<path d="M618.2,69.49 L620.6,75.69 L615.8,75.69 Z" fill="#fff" stroke="#1010c4" stroke-width="0.6" stroke-linejoin="miter"/>
<path d="M618.2,69.49 L620.6,75.69 L618.2,75.69 Z" fill="#1010c4" stroke="#1010c4" stroke-width="0.6"/>
<path d="M622.6,66.43 L625,72.63 L620.2,72.63 Z" fill="#fff" stroke="#1010c4" stroke-width="0.6" stroke-linejoin="miter"/>
<path d="M622.6,66.43 L625,72.63 L622.6,72.63 Z" fill="#1010c4" stroke="#1010c4" stroke-width="0.6"/>
<path d="M627,63.42 L629.4,69.62 L624.6,69.62 Z" fill="#fff" stroke="#1010c4" stroke-width="0.6" stroke-linejoin="miter"/>
<path d="M627,63.42 L629.4,69.62 L627,69.62 Z" fill="#1010c4" stroke="#1010c4" stroke-width="0.6"/>
<path d="M631.4,60.48 L633.8,66.68 L629,66.68 Z" fill="#fff" stroke="#1010c4" stroke-width="0.6" stroke-linejoin="miter"/>
<path d="M631.4,60.48 L633.8,66.68 L631.4,66.68 Z" fill="#1010c4" stroke="#1010c4" stroke-width="0.6"/>
<path d="M635.8,57.75 L638.2,63.95 L633.4,63.95 Z" fill="#fff" stroke="#1010c4" stroke-width="0.6" stroke-linejoin="miter"/>
<path d="M635.8,57.75 L638.2,63.95 L635.8,63.95 Z" fill="#1010c4" stroke="#1010c4" stroke-width="0.6"/>
<path d="M640.2,55.22 L642.6,61.42 L637.8,61.42 Z" fill="#fff" stroke="#1010c4" stroke-width="0.6" stroke-linejoin="miter"/>
<path d="M640.2,55.22 L642.6,61.42 L640.2,61.42 Z" fill="#1010c4" stroke="#1010c4" stroke-width="0.6"/>
<path d="M644.6,52.76 L647,58.96 L642.2,58.96 Z" fill="#fff" stroke="#1010c4" stroke-width="0.6" stroke-linejoin="miter"/>
<path d="M644.6,52.76 L647,58.96 L644.6,58.96 Z" fill="#1010c4" stroke="#1010c4" stroke-width="0.6"/>
<polyline points="380.6,208.45 385,208.86 389.4,209.19 393.8,209.3 398.2,209.02 402.6,208.47 407,207.77 411.4,206.96 415.8,206.02 420.2,205.01 424.6,204.03 429,203 433.4,202.02 437.8,201.14 442.2,200.26 446.6,199.55 451,199.14 455.4,199.01 459.8,199.07 464.2,199.28 468.6,199.66 473,200.31 477.4,201.22 481.8,202.32 486.2,203.68 490.6,205.2 495,206.7 499.4,208.25 503.8,209.78 508.2,211.14 512.6,212.35 517,213.45 521.4,214.4 525.8,215.16 530.2,215.77 534.6,216.22 539,216.41 543.4,216.22 547.8,215.07 552.2,213.22 556.6,210.92 561,208.04 565.4,203.94 569.8,199.18 574.2,195.18 578.6,191.48 583,187.23 587.4,181.9 591.8,176.58 596.2,171.56 600.6,167.13 605,163.86 609.4,161.27 613.8,158.94 618.2,156.95 622.6,155.2 627,153.63 631.4,152.19 635.8,150.89 640.2,149.69 644.6,148.53" fill="none" stroke="#167e16" stroke-width="1.2"/>
<path d="M380.6,205.05 L383.1,208.45 L380.6,211.85 L378.1,208.45 Z" fill="#fff" stroke="#167e16" stroke-width="0.6"/>
<path d="M380.6,205.05 L383.1,208.45 L380.6,211.85 Z" fill="#167e16" stroke="#167e16" stroke-width="0.6"/>
<path d="M385,205.46 L387.5,208.86 L385,212.26 L382.5,208.86 Z" fill="#fff" stroke="#167e16" stroke-width="0.6"/>
<path d="M385,205.46 L387.5,208.86 L385,212.26 Z" fill="#167e16" stroke="#167e16" stroke-width="0.6"/>
<path d="M389.4,205.79 L391.9,209.19 L389.4,212.59 L386.9,209.19 Z" fill="#fff" stroke="#167e16" stroke-width="0.6"/>
<path d="M389.4,205.79 L391.9,209.19 L389.4,212.59 Z" fill="#167e16" stroke="#167e16" stroke-width="0.6"/>
<path d="M393.8,205.9 L396.3,209.3 L393.8,212.7 L391.3,209.3 Z" fill="#fff" stroke="#167e16" stroke-width="0.6"/>
<path d="M393.8,205.9 L396.3,209.3 L393.8,212.7 Z" fill="#167e16" stroke="#167e16" stroke-width="0.6"/>
<path d="M398.2,205.62 L400.7,209.02 L398.2,212.42 L395.7,209.02 Z" fill="#fff" stroke="#167e16" stroke-width="0.6"/>
<path d="M398.2,205.62 L400.7,209.02 L398.2,212.42 Z" fill="#167e16" stroke="#167e16" stroke-width="0.6"/>
<path d="M402.6,205.07 L405.1,208.47 L402.6,211.87 L400.1,208.47 Z" fill="#fff" stroke="#167e16" stroke-width="0.6"/>
<path d="M402.6,205.07 L405.1,208.47 L402.6,211.87 Z" fill="#167e16" stroke="#167e16" stroke-width="0.6"/>
<path d="M407,204.37 L409.5,207.77 L407,211.17 L404.5,207.77 Z" fill="#fff" stroke="#167e16" stroke-width="0.6"/>
<path d="M407,204.37 L409.5,207.77 L407,211.17 Z" fill="#167e16" stroke="#167e16" stroke-width="0.6"/>
<path d="M411.4,203.56 L413.9,206.96 L411.4,210.36 L408.9,206.96 Z" fill="#fff" stroke="#167e16" stroke-width="0.6"/>
<path d="M411.4,203.56 L413.9,206.96 L411.4,210.36 Z" fill="#167e16" stroke="#167e16" stroke-width="0.6"/>
<path d="M415.8,202.62 L418.3,206.02 L415.8,209.42 L413.3,206.02 Z" fill="#fff" stroke="#167e16" stroke-width="0.6"/>
<path d="M415.8,202.62 L418.3,206.02 L415.8,209.42 Z" fill="#167e16" stroke="#167e16" stroke-width="0.6"/>
<path d="M420.2,201.61 L422.7,205.01 L420.2,208.41 L417.7,205.01 Z" fill="#fff" stroke="#167e16" stroke-width="0.6"/>
<path d="M420.2,201.61 L422.7,205.01 L420.2,208.41 Z" fill="#167e16" stroke="#167e16" stroke-width="0.6"/>
<path d="M424.6,200.63 L427.1,204.03 L424.6,207.43 L422.1,204.03 Z" fill="#fff" stroke="#167e16" stroke-width="0.6"/>
<path d="M424.6,200.63 L427.1,204.03 L424.6,207.43 Z" fill="#167e16" stroke="#167e16" stroke-width="0.6"/>
<path d="M429,199.6 L431.5,203 L429,206.4 L426.5,203 Z" fill="#fff" stroke="#167e16" stroke-width="0.6"/>
<path d="M429,199.6 L431.5,203 L429,206.4 Z" fill="#167e16" stroke="#167e16" stroke-width="0.6"/>
<path d="M433.4,198.62 L435.9,202.02 L433.4,205.42 L430.9,202.02 Z" fill="#fff" stroke="#167e16" stroke-width="0.6"/>
<path d="M433.4,198.62 L435.9,202.02 L433.4,205.42 Z" fill="#167e16" stroke="#167e16" stroke-width="0.6"/>
<path d="M437.8,197.74 L440.3,201.14 L437.8,204.54 L435.3,201.14 Z" fill="#fff" stroke="#167e16" stroke-width="0.6"/>
<path d="M437.8,197.74 L440.3,201.14 L437.8,204.54 Z" fill="#167e16" stroke="#167e16" stroke-width="0.6"/>
<path d="M442.2,196.86 L444.7,200.26 L442.2,203.66 L439.7,200.26 Z" fill="#fff" stroke="#167e16" stroke-width="0.6"/>
<path d="M442.2,196.86 L444.7,200.26 L442.2,203.66 Z" fill="#167e16" stroke="#167e16" stroke-width="0.6"/>
<path d="M446.6,196.15 L449.1,199.55 L446.6,202.95 L444.1,199.55 Z" fill="#fff" stroke="#167e16" stroke-width="0.6"/>
<path d="M446.6,196.15 L449.1,199.55 L446.6,202.95 Z" fill="#167e16" stroke="#167e16" stroke-width="0.6"/>
<path d="M451,195.74 L453.5,199.14 L451,202.54 L448.5,199.14 Z" fill="#fff" stroke="#167e16" stroke-width="0.6"/>
<path d="M451,195.74 L453.5,199.14 L451,202.54 Z" fill="#167e16" stroke="#167e16" stroke-width="0.6"/>
<path d="M455.4,195.61 L457.9,199.01 L455.4,202.41 L452.9,199.01 Z" fill="#fff" stroke="#167e16" stroke-width="0.6"/>
<path d="M455.4,195.61 L457.9,199.01 L455.4,202.41 Z" fill="#167e16" stroke="#167e16" stroke-width="0.6"/>
<path d="M459.8,195.67 L462.3,199.07 L459.8,202.47 L457.3,199.07 Z" fill="#fff" stroke="#167e16" stroke-width="0.6"/>
<path d="M459.8,195.67 L462.3,199.07 L459.8,202.47 Z" fill="#167e16" stroke="#167e16" stroke-width="0.6"/>
<path d="M464.2,195.88 L466.7,199.28 L464.2,202.68 L461.7,199.28 Z" fill="#fff" stroke="#167e16" stroke-width="0.6"/>
<path d="M464.2,195.88 L466.7,199.28 L464.2,202.68 Z" fill="#167e16" stroke="#167e16" stroke-width="0.6"/>
<path d="M468.6,196.26 L471.1,199.66 L468.6,203.06 L466.1,199.66 Z" fill="#fff" stroke="#167e16" stroke-width="0.6"/>
<path d="M468.6,196.26 L471.1,199.66 L468.6,203.06 Z" fill="#167e16" stroke="#167e16" stroke-width="0.6"/>
<path d="M473,196.91 L475.5,200.31 L473,203.71 L470.5,200.31 Z" fill="#fff" stroke="#167e16" stroke-width="0.6"/>
<path d="M473,196.91 L475.5,200.31 L473,203.71 Z" fill="#167e16" stroke="#167e16" stroke-width="0.6"/>
<path d="M477.4,197.82 L479.9,201.22 L477.4,204.62 L474.9,201.22 Z" fill="#fff" stroke="#167e16" stroke-width="0.6"/>
<path d="M477.4,197.82 L479.9,201.22 L477.4,204.62 Z" fill="#167e16" stroke="#167e16" stroke-width="0.6"/>
<path d="M481.8,198.92 L484.3,202.32 L481.8,205.72 L479.3,202.32 Z" fill="#fff" stroke="#167e16" stroke-width="0.6"/>
<path d="M481.8,198.92 L484.3,202.32 L481.8,205.72 Z" fill="#167e16" stroke="#167e16" stroke-width="0.6"/>
<path d="M486.2,200.28 L488.7,203.68 L486.2,207.08 L483.7,203.68 Z" fill="#fff" stroke="#167e16" stroke-width="0.6"/>
<path d="M486.2,200.28 L488.7,203.68 L486.2,207.08 Z" fill="#167e16" stroke="#167e16" stroke-width="0.6"/>
<path d="M490.6,201.8 L493.1,205.2 L490.6,208.6 L488.1,205.2 Z" fill="#fff" stroke="#167e16" stroke-width="0.6"/>
<path d="M490.6,201.8 L493.1,205.2 L490.6,208.6 Z" fill="#167e16" stroke="#167e16" stroke-width="0.6"/>
<path d="M495,203.3 L497.5,206.7 L495,210.1 L492.5,206.7 Z" fill="#fff" stroke="#167e16" stroke-width="0.6"/>
<path d="M495,203.3 L497.5,206.7 L495,210.1 Z" fill="#167e16" stroke="#167e16" stroke-width="0.6"/>
<path d="M499.4,204.85 L501.9,208.25 L499.4,211.65 L496.9,208.25 Z" fill="#fff" stroke="#167e16" stroke-width="0.6"/>
<path d="M499.4,204.85 L501.9,208.25 L499.4,211.65 Z" fill="#167e16" stroke="#167e16" stroke-width="0.6"/>
<path d="M503.8,206.38 L506.3,209.78 L503.8,213.18 L501.3,209.78 Z" fill="#fff" stroke="#167e16" stroke-width="0.6"/>
<path d="M503.8,206.38 L506.3,209.78 L503.8,213.18 Z" fill="#167e16" stroke="#167e16" stroke-width="0.6"/>
<path d="M508.2,207.74 L510.7,211.14 L508.2,214.54 L505.7,211.14 Z" fill="#fff" stroke="#167e16" stroke-width="0.6"/>
<path d="M508.2,207.74 L510.7,211.14 L508.2,214.54 Z" fill="#167e16" stroke="#167e16" stroke-width="0.6"/>
<path d="M512.6,208.95 L515.1,212.35 L512.6,215.75 L510.1,212.35 Z" fill="#fff" stroke="#167e16" stroke-width="0.6"/>
<path d="M512.6,208.95 L515.1,212.35 L512.6,215.75 Z" fill="#167e16" stroke="#167e16" stroke-width="0.6"/>
<path d="M517,210.05 L519.5,213.45 L517,216.85 L514.5,213.45 Z" fill="#fff" stroke="#167e16" stroke-width="0.6"/>
<path d="M517,210.05 L519.5,213.45 L517,216.85 Z" fill="#167e16" stroke="#167e16" stroke-width="0.6"/>
<path d="M521.4,211 L523.9,214.4 L521.4,217.8 L518.9,214.4 Z" fill="#fff" stroke="#167e16" stroke-width="0.6"/>
<path d="M521.4,211 L523.9,214.4 L521.4,217.8 Z" fill="#167e16" stroke="#167e16" stroke-width="0.6"/>
<path d="M525.8,211.76 L528.3,215.16 L525.8,218.56 L523.3,215.16 Z" fill="#fff" stroke="#167e16" stroke-width="0.6"/>
<path d="M525.8,211.76 L528.3,215.16 L525.8,218.56 Z" fill="#167e16" stroke="#167e16" stroke-width="0.6"/>
<path d="M530.2,212.37 L532.7,215.77 L530.2,219.17 L527.7,215.77 Z" fill="#fff" stroke="#167e16" stroke-width="0.6"/>
<path d="M530.2,212.37 L532.7,215.77 L530.2,219.17 Z" fill="#167e16" stroke="#167e16" stroke-width="0.6"/>
<path d="M534.6,212.82 L537.1,216.22 L534.6,219.62 L532.1,216.22 Z" fill="#fff" stroke="#167e16" stroke-width="0.6"/>
<path d="M534.6,212.82 L537.1,216.22 L534.6,219.62 Z" fill="#167e16" stroke="#167e16" stroke-width="0.6"/>
<path d="M539,213.01 L541.5,216.41 L539,219.81 L536.5,216.41 Z" fill="#fff" stroke="#167e16" stroke-width="0.6"/>
<path d="M539,213.01 L541.5,216.41 L539,219.81 Z" fill="#167e16" stroke="#167e16" stroke-width="0.6"/>
<path d="M543.4,212.82 L545.9,216.22 L543.4,219.62 L540.9,216.22 Z" fill="#fff" stroke="#167e16" stroke-width="0.6"/>
<path d="M543.4,212.82 L545.9,216.22 L543.4,219.62 Z" fill="#167e16" stroke="#167e16" stroke-width="0.6"/>
<path d="M547.8,211.67 L550.3,215.07 L547.8,218.47 L545.3,215.07 Z" fill="#fff" stroke="#167e16" stroke-width="0.6"/>
<path d="M547.8,211.67 L550.3,215.07 L547.8,218.47 Z" fill="#167e16" stroke="#167e16" stroke-width="0.6"/>
<path d="M552.2,209.82 L554.7,213.22 L552.2,216.62 L549.7,213.22 Z" fill="#fff" stroke="#167e16" stroke-width="0.6"/>
<path d="M552.2,209.82 L554.7,213.22 L552.2,216.62 Z" fill="#167e16" stroke="#167e16" stroke-width="0.6"/>
<path d="M556.6,207.52 L559.1,210.92 L556.6,214.32 L554.1,210.92 Z" fill="#fff" stroke="#167e16" stroke-width="0.6"/>
<path d="M556.6,207.52 L559.1,210.92 L556.6,214.32 Z" fill="#167e16" stroke="#167e16" stroke-width="0.6"/>
<path d="M561,204.64 L563.5,208.04 L561,211.44 L558.5,208.04 Z" fill="#fff" stroke="#167e16" stroke-width="0.6"/>
<path d="M561,204.64 L563.5,208.04 L561,211.44 Z" fill="#167e16" stroke="#167e16" stroke-width="0.6"/>
<path d="M565.4,200.54 L567.9,203.94 L565.4,207.34 L562.9,203.94 Z" fill="#fff" stroke="#167e16" stroke-width="0.6"/>
<path d="M565.4,200.54 L567.9,203.94 L565.4,207.34 Z" fill="#167e16" stroke="#167e16" stroke-width="0.6"/>
<path d="M569.8,195.78 L572.3,199.18 L569.8,202.58 L567.3,199.18 Z" fill="#fff" stroke="#167e16" stroke-width="0.6"/>
<path d="M569.8,195.78 L572.3,199.18 L569.8,202.58 Z" fill="#167e16" stroke="#167e16" stroke-width="0.6"/>
<path d="M574.2,191.78 L576.7,195.18 L574.2,198.58 L571.7,195.18 Z" fill="#fff" stroke="#167e16" stroke-width="0.6"/>
<path d="M574.2,191.78 L576.7,195.18 L574.2,198.58 Z" fill="#167e16" stroke="#167e16" stroke-width="0.6"/>
<path d="M578.6,188.08 L581.1,191.48 L578.6,194.88 L576.1,191.48 Z" fill="#fff" stroke="#167e16" stroke-width="0.6"/>
<path d="M578.6,188.08 L581.1,191.48 L578.6,194.88 Z" fill="#167e16" stroke="#167e16" stroke-width="0.6"/>
<path d="M583,183.83 L585.5,187.23 L583,190.63 L580.5,187.23 Z" fill="#fff" stroke="#167e16" stroke-width="0.6"/>
<path d="M583,183.83 L585.5,187.23 L583,190.63 Z" fill="#167e16" stroke="#167e16" stroke-width="0.6"/>
<path d="M587.4,178.5 L589.9,181.9 L587.4,185.3 L584.9,181.9 Z" fill="#fff" stroke="#167e16" stroke-width="0.6"/>
<path d="M587.4,178.5 L589.9,181.9 L587.4,185.3 Z" fill="#167e16" stroke="#167e16" stroke-width="0.6"/>
<path d="M591.8,173.18 L594.3,176.58 L591.8,179.98 L589.3,176.58 Z" fill="#fff" stroke="#167e16" stroke-width="0.6"/>
<path d="M591.8,173.18 L594.3,176.58 L591.8,179.98 Z" fill="#167e16" stroke="#167e16" stroke-width="0.6"/>
<path d="M596.2,168.16 L598.7,171.56 L596.2,174.96 L593.7,171.56 Z" fill="#fff" stroke="#167e16" stroke-width="0.6"/>
<path d="M596.2,168.16 L598.7,171.56 L596.2,174.96 Z" fill="#167e16" stroke="#167e16" stroke-width="0.6"/>
<path d="M600.6,163.73 L603.1,167.13 L600.6,170.53 L598.1,167.13 Z" fill="#fff" stroke="#167e16" stroke-width="0.6"/>
<path d="M600.6,163.73 L603.1,167.13 L600.6,170.53 Z" fill="#167e16" stroke="#167e16" stroke-width="0.6"/>
<path d="M605,160.46 L607.5,163.86 L605,167.26 L602.5,163.86 Z" fill="#fff" stroke="#167e16" stroke-width="0.6"/>
<path d="M605,160.46 L607.5,163.86 L605,167.26 Z" fill="#167e16" stroke="#167e16" stroke-width="0.6"/>
<path d="M609.4,157.87 L611.9,161.27 L609.4,164.67 L606.9,161.27 Z" fill="#fff" stroke="#167e16" stroke-width="0.6"/>
<path d="M609.4,157.87 L611.9,161.27 L609.4,164.67 Z" fill="#167e16" stroke="#167e16" stroke-width="0.6"/>
<path d="M613.8,155.54 L616.3,158.94 L613.8,162.34 L611.3,158.94 Z" fill="#fff" stroke="#167e16" stroke-width="0.6"/>
<path d="M613.8,155.54 L616.3,158.94 L613.8,162.34 Z" fill="#167e16" stroke="#167e16" stroke-width="0.6"/>
<path d="M618.2,153.55 L620.7,156.95 L618.2,160.35 L615.7,156.95 Z" fill="#fff" stroke="#167e16" stroke-width="0.6"/>
<path d="M618.2,153.55 L620.7,156.95 L618.2,160.35 Z" fill="#167e16" stroke="#167e16" stroke-width="0.6"/>
<path d="M622.6,151.8 L625.1,155.2 L622.6,158.6 L620.1,155.2 Z" fill="#fff" stroke="#167e16" stroke-width="0.6"/>
<path d="M622.6,151.8 L625.1,155.2 L622.6,158.6 Z" fill="#167e16" stroke="#167e16" stroke-width="0.6"/>
<path d="M627,150.23 L629.5,153.63 L627,157.03 L624.5,153.63 Z" fill="#fff" stroke="#167e16" stroke-width="0.6"/>
<path d="M627,150.23 L629.5,153.63 L627,157.03 Z" fill="#167e16" stroke="#167e16" stroke-width="0.6"/>
<path d="M631.4,148.79 L633.9,152.19 L631.4,155.59 L628.9,152.19 Z" fill="#fff" stroke="#167e16" stroke-width="0.6"/>
<path d="M631.4,148.79 L633.9,152.19 L631.4,155.59 Z" fill="#167e16" stroke="#167e16" stroke-width="0.6"/>
<path d="M635.8,147.49 L638.3,150.89 L635.8,154.29 L633.3,150.89 Z" fill="#fff" stroke="#167e16" stroke-width="0.6"/>
<path d="M635.8,147.49 L638.3,150.89 L635.8,154.29 Z" fill="#167e16" stroke="#167e16" stroke-width="0.6"/>
<path d="M640.2,146.29 L642.7,149.69 L640.2,153.09 L637.7,149.69 Z" fill="#fff" stroke="#167e16" stroke-width="0.6"/>
<path d="M640.2,146.29 L642.7,149.69 L640.2,153.09 Z" fill="#167e16" stroke="#167e16" stroke-width="0.6"/>
<path d="M644.6,145.13 L647.1,148.53 L644.6,151.93 L642.1,148.53 Z" fill="#fff" stroke="#167e16" stroke-width="0.6"/>
<path d="M644.6,145.13 L647.1,148.53 L644.6,151.93 Z" fill="#167e16" stroke="#167e16" stroke-width="0.6"/>
<line x1="537.5" y1="240.5" x2="598" y2="99.5" stroke="#661111" stroke-width="2.2"/>
<line x1="442.2" y1="240.5" x2="508.6" y2="159.5" stroke="#d81b1f" stroke-width="2.2"/>
<line x1="473" y1="240.5" x2="537" y2="139" stroke="#1010c4" stroke-width="2.2"/>
<line x1="531" y1="240.5" x2="590" y2="177" stroke="#167e16" stroke-width="2.2"/>
</g>
<rect x="380.7" y="20.2" width="267.3" height="217.3" fill="none" stroke="#111" stroke-width="1.6"/>
<line x1="376.1" y1="237.5" x2="380.7" y2="237.5" stroke="#111" stroke-width="1.5"/>
<text x="375.3" y="239.6" font-size="10.2" font-weight="bold" text-anchor="end" fill="#111" stroke="#111" >8.4</text>
<line x1="378.3" y1="221.98" x2="380.7" y2="221.98" stroke="#111" stroke-width="1.5"/>
<line x1="376.1" y1="206.46" x2="380.7" y2="206.46" stroke="#111" stroke-width="1.5"/>
<text x="375.3" y="208.56" font-size="10.2" font-weight="bold" text-anchor="end" fill="#111" stroke="#111" >8.6</text>
<line x1="378.3" y1="190.94" x2="380.7" y2="190.94" stroke="#111" stroke-width="1.5"/>
<line x1="376.1" y1="175.42" x2="380.7" y2="175.42" stroke="#111" stroke-width="1.5"/>
<text x="375.3" y="177.52" font-size="10.2" font-weight="bold" text-anchor="end" fill="#111" stroke="#111" >8.8</text>
<line x1="378.3" y1="159.9" x2="380.7" y2="159.9" stroke="#111" stroke-width="1.5"/>
<line x1="376.1" y1="144.38" x2="380.7" y2="144.38" stroke="#111" stroke-width="1.5"/>
<text x="375.3" y="146.48" font-size="10.2" font-weight="bold" text-anchor="end" fill="#111" stroke="#111" >9.0</text>
<line x1="378.3" y1="128.86" x2="380.7" y2="128.86" stroke="#111" stroke-width="1.5"/>
<line x1="376.1" y1="113.34" x2="380.7" y2="113.34" stroke="#111" stroke-width="1.5"/>
<text x="375.3" y="115.44" font-size="10.2" font-weight="bold" text-anchor="end" fill="#111" stroke="#111" >9.2</text>
<line x1="378.3" y1="97.82" x2="380.7" y2="97.82" stroke="#111" stroke-width="1.5"/>
<line x1="376.1" y1="82.3" x2="380.7" y2="82.3" stroke="#111" stroke-width="1.5"/>
<text x="375.3" y="84.4" font-size="10.2" font-weight="bold" text-anchor="end" fill="#111" stroke="#111" >9.4</text>
<line x1="378.3" y1="66.78" x2="380.7" y2="66.78" stroke="#111" stroke-width="1.5"/>
<line x1="376.1" y1="51.26" x2="380.7" y2="51.26" stroke="#111" stroke-width="1.5"/>
<text x="375.3" y="53.36" font-size="10.2" font-weight="bold" text-anchor="end" fill="#111" stroke="#111" >9.6</text>
<line x1="378.3" y1="35.74" x2="380.7" y2="35.74" stroke="#111" stroke-width="1.5"/>
<line x1="376.1" y1="20.22" x2="380.7" y2="20.22" stroke="#111" stroke-width="1.5"/>
<text x="375.3" y="23.82" font-size="10.2" font-weight="bold" text-anchor="end" fill="#111" stroke="#111" >9.8</text>
<line x1="380.7" y1="237.5" x2="380.7" y2="242.1" stroke="#111" stroke-width="1.5"/>
<text x="380.7" y="254.3" font-size="10" font-weight="bold" text-anchor="middle" fill="#111" stroke="#111" >-1.5</text>
<line x1="425.25" y1="237.5" x2="425.25" y2="239.9" stroke="#111" stroke-width="1.5"/>
<line x1="469.8" y1="237.5" x2="469.8" y2="242.1" stroke="#111" stroke-width="1.5"/>
<text x="469.8" y="254.3" font-size="10" font-weight="bold" text-anchor="middle" fill="#111" stroke="#111" >-1.0</text>
<line x1="514.35" y1="237.5" x2="514.35" y2="239.9" stroke="#111" stroke-width="1.5"/>
<line x1="558.9" y1="237.5" x2="558.9" y2="242.1" stroke="#111" stroke-width="1.5"/>
<text x="558.9" y="254.3" font-size="10" font-weight="bold" text-anchor="middle" fill="#111" stroke="#111" >-0.5</text>
<line x1="603.45" y1="237.5" x2="603.45" y2="239.9" stroke="#111" stroke-width="1.5"/>
<line x1="648" y1="237.5" x2="648" y2="242.1" stroke="#111" stroke-width="1.5"/>
<text x="648" y="254.3" font-size="10" font-weight="bold" text-anchor="middle" fill="#111" stroke="#111" >0.0</text>
<text x="450.6" y="266.2" font-size="12.55" font-weight="bold" text-anchor="start" fill="#111" stroke="#111" >Potential (V vs Ag/AgCl)</text>
<g transform="translate(355.8,163.6) rotate(-90)" font-weight="bold" fill="#111" stroke="#111"><text x="0" y="0" font-size="12.3">log(C</text><text x="31.6" y="-7.5" font-size="11">-2</text><text x="46.2" y="0" font-size="12.3">F</text><text x="54.9" y="-7.5" font-size="11">-2</text><text x="64.6" y="0" font-size="12.3">)</text></g>
<rect x="383.5" y="22.7" width="99.3" height="58.7" fill="#fff" stroke="#c8c8c8" stroke-width="1"/>
<line x1="386.4" y1="31.4" x2="409.9" y2="31.4" stroke="#661111" stroke-width="2.2"/>
<rect x="395.7" y="28.7" width="5.4" height="5.4" fill="#fff" stroke="#661111" stroke-width="1"/>
<rect x="398.4" y="28.7" width="2.7" height="5.4" fill="#661111" stroke="#661111" stroke-width="1"/>
<text x="412.9" y="35.6" font-size="11.7" font-weight="bold" text-anchor="start" fill="#111" stroke="#111" >NiFe LDH</text>
<line x1="386.4" y1="45.85" x2="409.9" y2="45.85" stroke="#d81b1f" stroke-width="2.2"/>
<ellipse cx="398.4" cy="45.85" rx="3" ry="3" fill="#fff" stroke="#d81b1f" stroke-width="1"/>
<path d="M398.4,42.85 A3,3 0 0 1 398.4,48.85 Z" fill="#d81b1f" stroke="#d81b1f" stroke-width="1"/>
<text x="412.9" y="50.05" font-size="11.7" font-weight="bold" text-anchor="start" fill="#111" stroke="#111" >CN</text>
<line x1="386.4" y1="60.3" x2="409.9" y2="60.3" stroke="#1010c4" stroke-width="2.2"/>
<path d="M398.4,56.34 L402,63.54 L394.8,63.54 Z" fill="#fff" stroke="#1010c4" stroke-width="1" stroke-linejoin="miter"/>
<path d="M398.4,56.34 L402,63.54 L398.4,63.54 Z" fill="#1010c4" stroke="#1010c4" stroke-width="1"/>
<text x="412.9" y="64.5" font-size="11.7" font-weight="bold" text-anchor="start" fill="#111" stroke="#111" >CNLDH</text>
<line x1="386.4" y1="74.75" x2="409.9" y2="74.75" stroke="#167e16" stroke-width="2.2"/>
<path d="M398.4,70.86 L401.7,74.75 L398.4,78.64 L395.1,74.75 Z" fill="#fff" stroke="#167e16" stroke-width="1"/>
<path d="M398.4,70.86 L401.7,74.75 L398.4,78.64 Z" fill="#167e16" stroke="#167e16" stroke-width="1"/>
<text x="412.9" y="78.95" font-size="11.7" font-weight="bold" text-anchor="start" fill="#111" stroke="#111" >CNNG3LDH</text>
<line x1="551.4" y1="30.8" x2="582.5" y2="30.8" stroke="#111" stroke-width="2"/>
<text x="591.3" y="33.6" font-size="11.2" font-weight="bold" text-anchor="start" fill="#111" stroke="#111" >500 Hz</text>
<text x="329.6" y="16.6" font-size="21.5" font-weight="bold" text-anchor="start" fill="#111" stroke="#111" >(b)</text>
<polyline points="259.15,449.2 487.0,449.2 487.0,439.5" fill="none" stroke="#c8171b" stroke-width="2.6"/>
<rect x="226.8" y="279.6" width="260.2" height="212" fill="none" stroke="#111" stroke-width="1.6"/>
<line x1="222.4" y1="279.6" x2="226.8" y2="279.6" stroke="#111" stroke-width="1.5"/>
<text x="221.9" y="281.8" font-size="9.9" font-weight="bold" text-anchor="end" fill="#111" stroke="#111" >1.2</text>
<line x1="222.4" y1="313.48" x2="226.8" y2="313.48" stroke="#111" stroke-width="1.5"/>
<text x="221.9" y="315.68" font-size="9.9" font-weight="bold" text-anchor="end" fill="#111" stroke="#111" >1.0</text>
<line x1="222.4" y1="347.36" x2="226.8" y2="347.36" stroke="#111" stroke-width="1.5"/>
<text x="221.9" y="349.56" font-size="9.9" font-weight="bold" text-anchor="end" fill="#111" stroke="#111" >0.8</text>
<line x1="222.4" y1="381.24" x2="226.8" y2="381.24" stroke="#111" stroke-width="1.5"/>
<text x="221.9" y="383.44" font-size="9.9" font-weight="bold" text-anchor="end" fill="#111" stroke="#111" >0.6</text>
<line x1="222.4" y1="415.12" x2="226.8" y2="415.12" stroke="#111" stroke-width="1.5"/>
<text x="221.9" y="417.32" font-size="9.9" font-weight="bold" text-anchor="end" fill="#111" stroke="#111" >0.4</text>
<line x1="222.4" y1="449" x2="226.8" y2="449" stroke="#111" stroke-width="1.5"/>
<text x="221.9" y="451.2" font-size="9.9" font-weight="bold" text-anchor="end" fill="#111" stroke="#111" >0.2</text>
<line x1="222.4" y1="482.88" x2="226.8" y2="482.88" stroke="#111" stroke-width="1.5"/>
<text x="221.9" y="485.08" font-size="9.9" font-weight="bold" text-anchor="end" fill="#111" stroke="#111" >0.1</text>
<line x1="224.4" y1="296.54" x2="226.8" y2="296.54" stroke="#111" stroke-width="1.5"/>
<line x1="224.4" y1="330.42" x2="226.8" y2="330.42" stroke="#111" stroke-width="1.5"/>
<line x1="224.4" y1="364.3" x2="226.8" y2="364.3" stroke="#111" stroke-width="1.5"/>
<line x1="224.4" y1="398.18" x2="226.8" y2="398.18" stroke="#111" stroke-width="1.5"/>
<line x1="224.4" y1="432.06" x2="226.8" y2="432.06" stroke="#111" stroke-width="1.5"/>
<line x1="224.4" y1="465.94" x2="226.8" y2="465.94" stroke="#111" stroke-width="1.5"/>
<line x1="226.6" y1="491.6" x2="226.6" y2="496" stroke="#111" stroke-width="1.5"/>
<text x="226.6" y="505.6" font-size="9" font-weight="bold" text-anchor="middle" fill="#111" stroke="#111" >0</text>
<line x1="291.7" y1="491.6" x2="291.7" y2="496" stroke="#111" stroke-width="1.5"/>
<text x="291.7" y="505.6" font-size="9" font-weight="bold" text-anchor="middle" fill="#111" stroke="#111" >2</text>
<line x1="356.8" y1="491.6" x2="356.8" y2="496" stroke="#111" stroke-width="1.5"/>
<text x="356.8" y="505.6" font-size="9" font-weight="bold" text-anchor="middle" fill="#111" stroke="#111" >4</text>
<line x1="421.9" y1="491.6" x2="421.9" y2="496" stroke="#111" stroke-width="1.5"/>
<text x="421.9" y="505.6" font-size="9" font-weight="bold" text-anchor="middle" fill="#111" stroke="#111" >6</text>
<line x1="487" y1="491.6" x2="487" y2="496" stroke="#111" stroke-width="1.5"/>
<text x="487" y="505.6" font-size="9" font-weight="bold" text-anchor="middle" fill="#111" stroke="#111" >8</text>
<text x="357.2" y="525.8" font-size="11.9" font-weight="bold" text-anchor="middle" fill="#111" stroke="#111" >Time (h)</text>
<text transform="translate(192.4,466) rotate(-90)" font-size="12.6" font-weight="bold" fill="#111" stroke="#111">Current density (mA/Cm<tspan font-size="10" dy="-8.3">2</tspan><tspan dy="8.3">)</tspan></text>
<text x="235.6" y="296.8" font-size="11.5" font-weight="bold" text-anchor="start" fill="#c8202a" stroke="#c8202a" >CNNG3LDH</text>
<text x="436.7" y="296" font-size="11.2" font-weight="bold" text-anchor="start" fill="#111" stroke="#111" >1.20 V</text>
<text x="168.6" y="297.3" font-size="21.5" font-weight="bold" text-anchor="start" fill="#111" stroke="#111" >(c)</text>
</svg>
</body></html>
